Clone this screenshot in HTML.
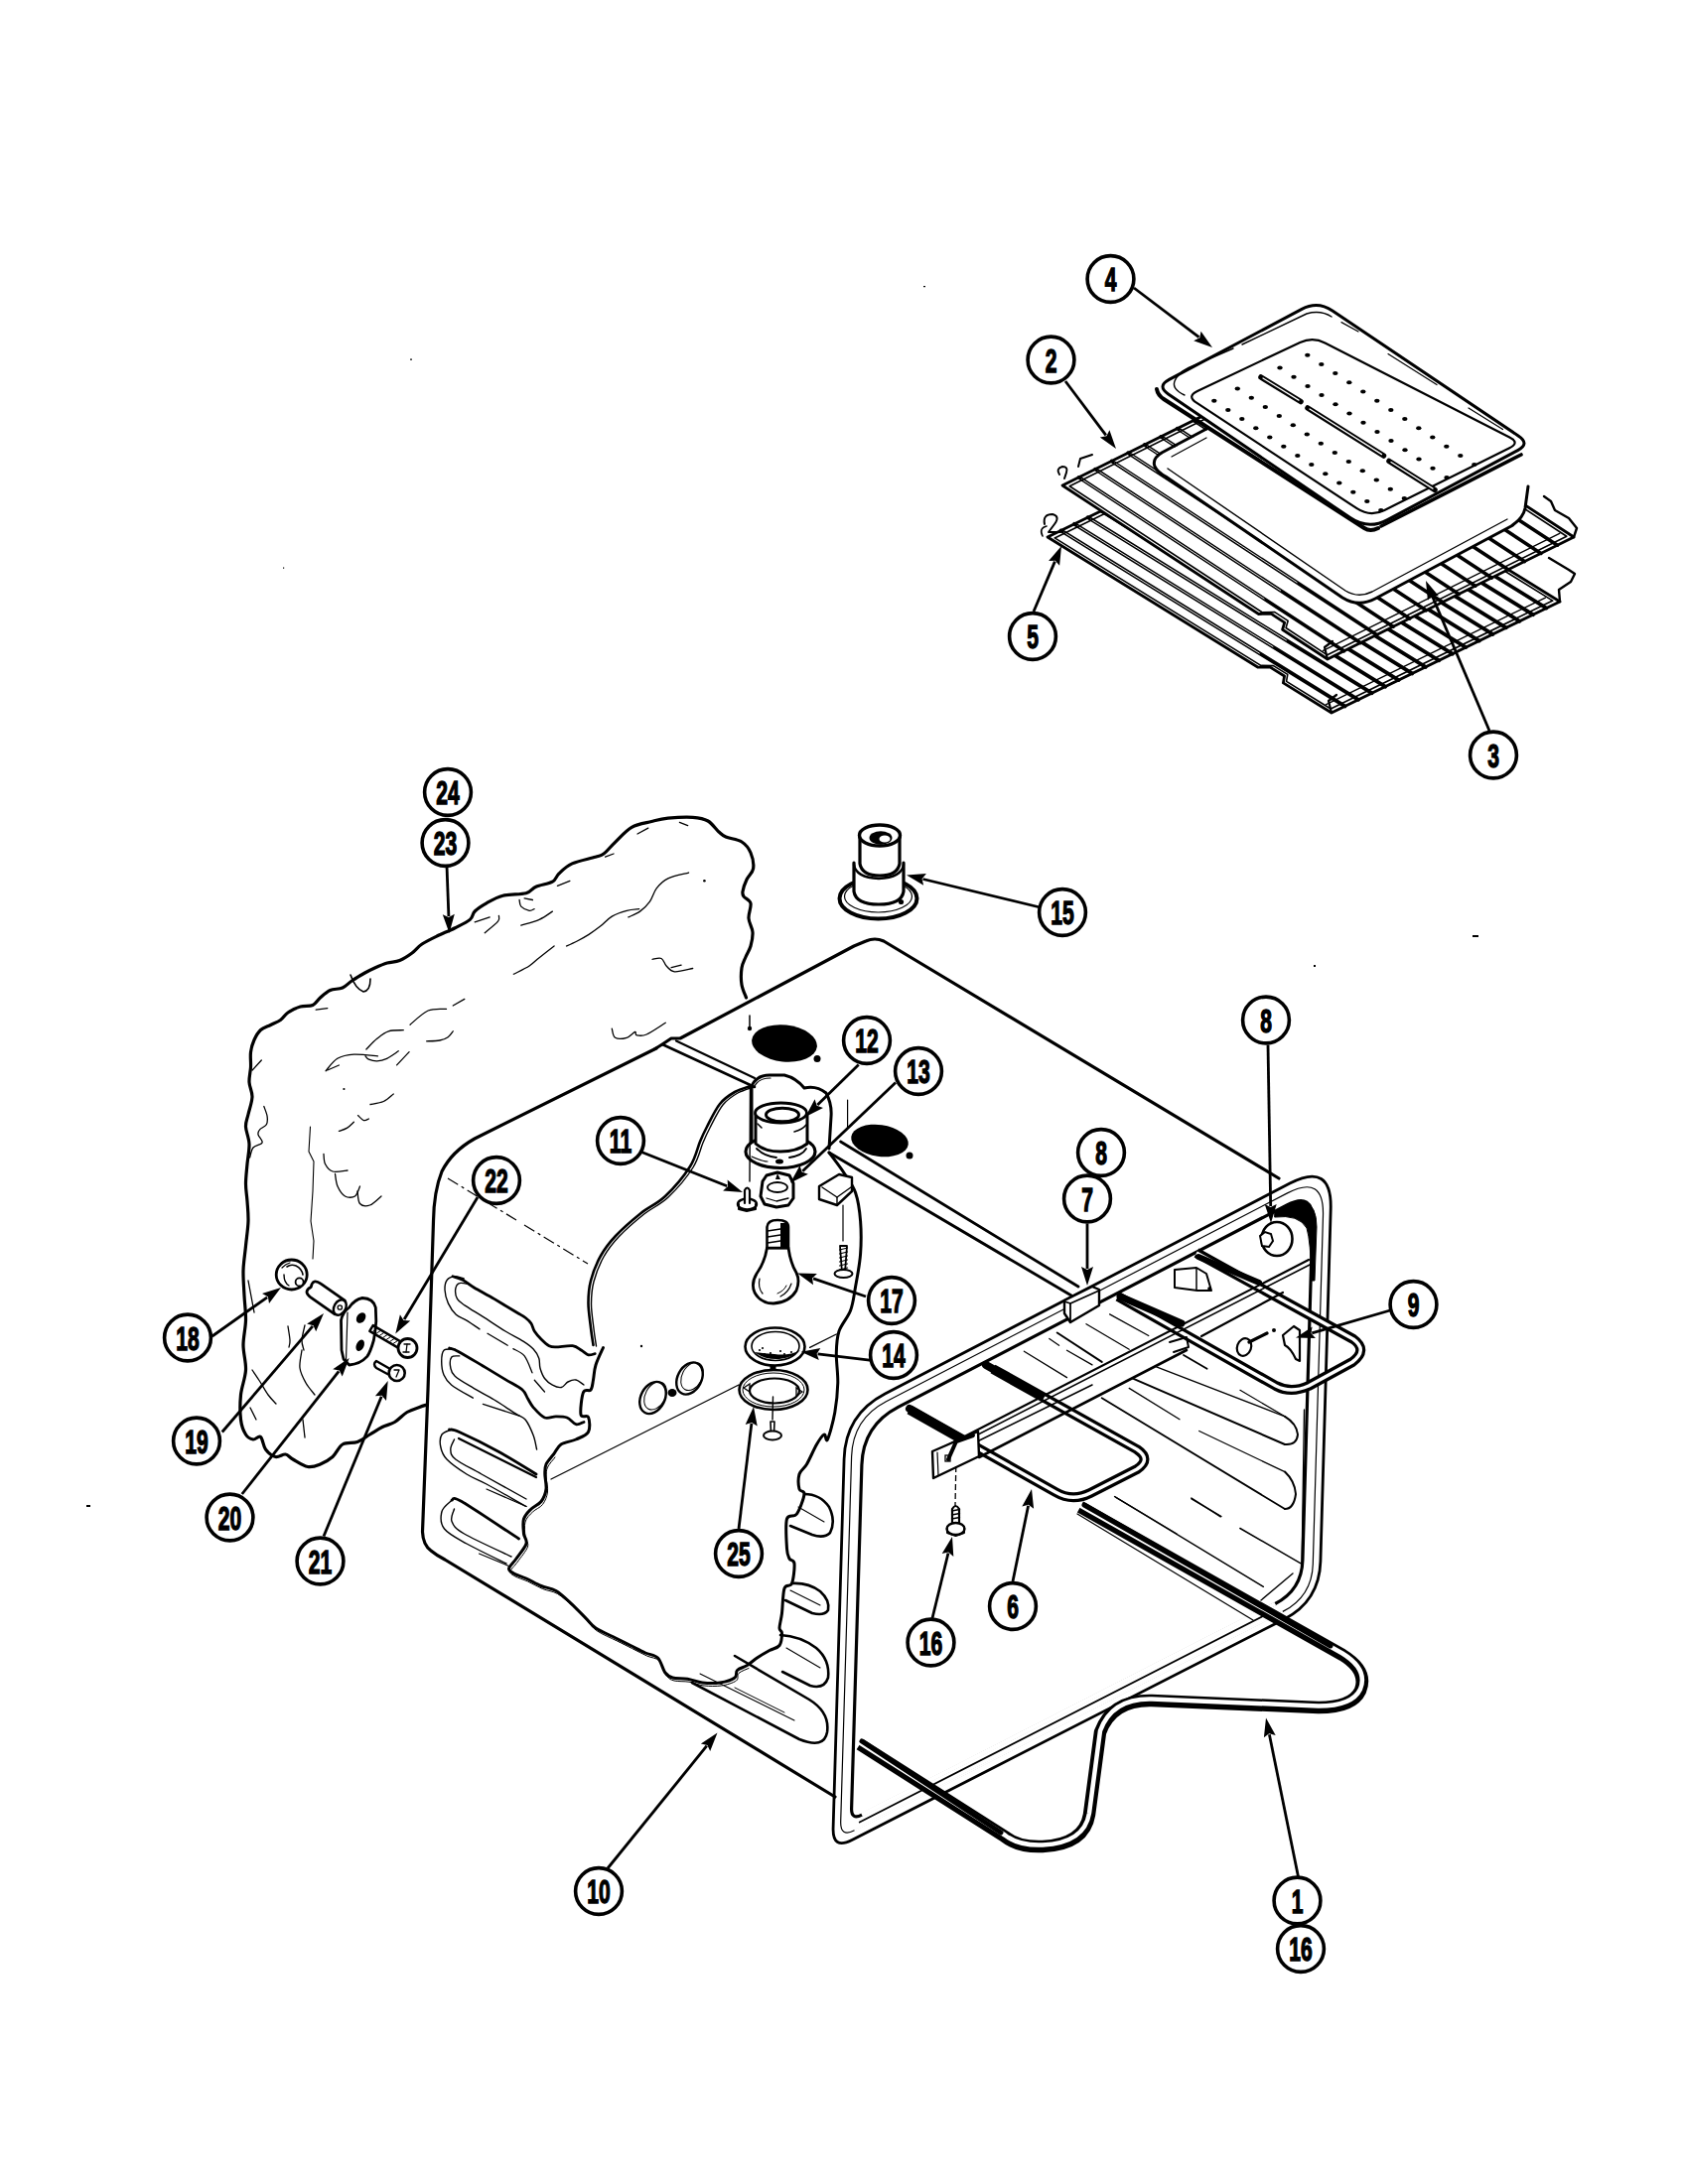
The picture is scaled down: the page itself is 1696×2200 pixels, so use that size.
<!DOCTYPE html>
<html><head><meta charset="utf-8"><style>
html,body{margin:0;padding:0;background:#fff;}
svg{display:block;}
text{font-family:"Liberation Sans",sans-serif;fill:#000;}
</style></head><body>
<svg width="1696" height="2200" viewBox="0 0 1696 2200">
<path d="M751.5,1005.0 C750.8,1002.8 747.8,997.0 747.0,992.0 C746.2,987.0 746.3,979.7 747.0,975.0 C747.7,970.3 749.5,967.7 751.0,964.0 C752.5,960.3 754.8,957.2 756.0,953.0 C757.2,948.8 758.3,943.7 758.0,939.0 C757.7,934.3 754.3,929.8 754.0,925.0 C753.7,920.2 756.8,913.7 756.0,910.0 C755.2,906.3 750.3,905.0 749.0,903.0 C747.7,901.0 747.5,900.8 748.0,898.0 C748.5,895.2 750.2,889.8 752.0,886.0 C753.8,882.2 757.9,879.5 758.6,875.0 C759.3,870.5 757.9,863.5 756.0,859.0 C754.1,854.5 751.2,850.7 747.0,848.0 C742.8,845.3 734.8,844.7 731.0,843.0 C727.2,841.3 727.0,840.7 724.0,838.0 C721.0,835.3 717.4,829.5 713.0,827.0 C708.6,824.5 704.4,823.8 697.7,823.3 C691.0,822.8 679.7,823.5 672.8,824.2 C665.9,824.9 662.3,826.0 656.2,827.5 C650.1,829.0 642.3,829.8 636.2,833.3 C630.1,836.8 624.3,843.8 619.6,848.3 C614.9,852.8 611.3,857.5 608.0,860.0 C604.7,862.5 604.9,861.6 599.6,863.2 C594.3,864.9 582.4,867.1 576.3,869.9 C570.2,872.7 566.3,876.8 563.0,879.9 C559.7,883.0 560.3,886.0 556.4,888.2 C552.5,890.4 544.2,891.3 539.8,893.2 C535.4,895.1 535.3,898.3 529.8,899.8 C524.2,901.3 513.1,900.6 506.5,902.3 C499.9,904.0 494.6,907.2 489.9,909.8 C485.2,912.4 481.0,915.2 478.2,918.0 C475.4,920.8 476.6,923.6 473.3,926.4 C470.0,929.2 463.9,931.9 458.3,934.7 C452.8,937.5 445.6,940.3 440.0,943.0 C434.4,945.7 429.2,948.2 425.0,951.0 C420.8,953.8 418.8,957.2 415.0,960.0 C411.2,962.8 406.7,965.8 402.5,967.5 C398.3,969.2 394.2,968.8 390.0,970.0 C385.8,971.2 381.2,973.3 377.5,975.0 C373.8,976.7 371.2,977.9 367.5,980.0 C363.8,982.1 358.8,985.0 355.0,987.5 C351.2,990.0 348.8,993.3 345.0,995.0 C341.2,996.7 336.2,995.8 332.5,997.5 C328.8,999.2 325.4,1002.5 322.5,1005.0 C319.6,1007.5 318.3,1011.0 315.0,1012.5 C311.7,1014.0 306.7,1012.8 302.5,1014.0 C298.3,1015.2 293.3,1017.8 290.0,1020.0 C286.7,1022.2 285.4,1025.4 282.5,1027.5 C279.6,1029.6 275.8,1030.8 272.5,1032.5 C269.2,1034.2 265.2,1035.0 262.5,1037.5 C259.8,1040.0 257.7,1043.8 256.0,1047.5 C254.3,1051.2 253.1,1055.4 252.5,1060.0 C251.9,1064.6 252.8,1070.0 252.5,1075.0 C252.2,1080.0 250.8,1085.0 251.0,1090.0 C251.2,1095.0 254.2,1099.6 254.0,1105.0 C253.8,1110.4 251.1,1117.5 250.0,1122.5 C248.9,1127.5 247.3,1130.0 247.5,1135.0 C247.7,1140.0 250.8,1146.2 251.0,1152.5 C251.2,1158.8 249.6,1165.8 249.0,1172.5 C248.4,1179.2 247.5,1186.2 247.5,1192.5 C247.5,1198.8 248.6,1203.8 249.0,1210.0 C249.4,1216.2 250.2,1222.5 250.0,1230.0 C249.8,1237.5 248.3,1246.7 247.5,1255.0 C246.7,1263.3 245.2,1271.7 245.0,1280.0 C244.8,1288.3 245.6,1296.7 246.0,1305.0 C246.4,1313.3 247.7,1321.7 247.5,1330.0 C247.3,1338.3 245.0,1346.7 245.0,1355.0 C245.0,1363.3 247.9,1371.7 247.5,1380.0 C247.1,1388.3 243.3,1396.7 242.5,1405.0 C241.7,1413.3 241.7,1423.3 242.5,1430.0 C243.3,1436.7 245.4,1441.7 247.5,1445.0 C249.6,1448.3 252.5,1449.6 255.0,1450.0 C257.5,1450.4 260.4,1445.8 262.5,1447.5 C264.6,1449.2 265.0,1456.7 267.5,1460.0 C270.0,1463.3 274.2,1466.7 277.5,1467.5 C280.8,1468.3 284.6,1464.6 287.5,1465.0 C290.4,1465.4 291.2,1467.9 295.0,1470.0 C298.8,1472.1 305.4,1476.7 310.0,1477.5 C314.6,1478.3 318.3,1476.7 322.5,1475.0 C326.7,1473.3 331.2,1470.8 335.0,1467.5 C338.8,1464.2 340.8,1457.5 345.0,1455.0 C349.2,1452.5 355.4,1454.2 360.0,1452.5 C364.6,1450.8 368.3,1447.5 372.5,1445.0 C376.7,1442.5 380.8,1439.6 385.0,1437.5 C389.2,1435.4 393.3,1435.0 397.5,1432.5 C401.7,1430.0 405.8,1425.0 410.0,1422.5 C414.2,1420.0 419.2,1418.8 422.5,1417.5 C425.8,1416.2 428.8,1415.4 430.0,1415.0" fill="none" stroke="#000" stroke-width="3.2" stroke-linejoin="round" stroke-linecap="round"/>
<path d="M353,982 Q358,996 366,999 Q373,998 373,986" fill="none" stroke="#000" stroke-width="1.6" stroke-linejoin="round" stroke-linecap="round"/>
<path d="M642,840 L652.8,834.1" fill="none" stroke="#000" stroke-width="1.3" stroke-linejoin="round" stroke-linecap="round"/>
<path d="M692.7,831.6 L684.4,828.3" fill="none" stroke="#000" stroke-width="1.3" stroke-linejoin="round" stroke-linecap="round"/>
<path d="M618,860 L609.6,863.2" fill="none" stroke="#000" stroke-width="1.3" stroke-linejoin="round" stroke-linecap="round"/>
<path d="M573.9,887.3 L561.4,892.3" fill="none" stroke="#000" stroke-width="1.3" stroke-linejoin="round" stroke-linecap="round"/>
<path d="M536.4,906.5 L528.1,904.8" fill="none" stroke="#000" stroke-width="1.3" stroke-linejoin="round" stroke-linecap="round"/>
<path d="M523.1,906.5 C523.4,907.6 523.1,911.3 524.8,913.1 C526.5,914.9 530.9,916.9 533.1,917.3 C535.3,917.7 537.3,915.9 538.1,915.6" fill="none" stroke="#000" stroke-width="1.3" stroke-linejoin="round" stroke-linecap="round"/>
<path d="M493.2,923.9 L478.2,928.9" fill="none" stroke="#000" stroke-width="1.3" stroke-linejoin="round" stroke-linecap="round"/>
<path d="M502.4,922.3 C502.2,923.3 503.9,925.2 501.5,928.1 C499.1,931.0 490.4,937.8 488.2,939.7" fill="none" stroke="#000" stroke-width="1.3" stroke-linejoin="round" stroke-linecap="round"/>
<path d="M556.4,918.1 C554.2,919.5 548.4,924.0 543.1,926.4 C537.8,928.8 527.8,931.2 524.8,932.2" fill="none" stroke="#000" stroke-width="1.3" stroke-linejoin="round" stroke-linecap="round"/>
<path d="M693.6,879.0 C690.1,880.0 678.2,882.2 672.8,884.8 C667.4,887.4 664.2,890.9 661.2,894.8 C658.2,898.7 657.3,904.2 654.5,908.1 C651.7,912.0 648.1,915.5 644.5,918.1 C640.9,920.7 634.8,922.9 632.9,923.9" fill="none" stroke="#000" stroke-width="1.3" stroke-linejoin="round" stroke-linecap="round"/>
<path d="M643.7,915.6 C641.6,915.9 635.8,916.0 631.2,917.3 C626.6,918.5 620.7,920.5 616.3,923.1 C611.9,925.7 608.5,930.1 604.6,933.1 C600.7,936.1 596.9,938.9 593.0,941.4 C589.1,943.9 585.0,946.1 581.3,948.0 C577.5,949.9 572.3,952.2 570.5,953.0" fill="none" stroke="#000" stroke-width="1.3" stroke-linejoin="round" stroke-linecap="round"/>
<path d="M558.1,953.0 C555.6,955.0 547.3,961.4 543.1,964.7 C538.9,968.0 537.4,970.2 533.1,973.0 C528.8,975.8 519.9,979.9 517.3,981.3" fill="none" stroke="#000" stroke-width="1.3" stroke-linejoin="round" stroke-linecap="round"/>
<path d="M657.0,966.3 C658.5,966.2 663.8,964.4 666.1,965.5 C668.5,966.6 668.9,970.8 671.1,973.0 C673.3,975.2 675.0,978.4 679.4,978.8 C683.8,979.2 694.7,976.0 697.7,975.5" fill="none" stroke="#000" stroke-width="1.3" stroke-linejoin="round" stroke-linecap="round"/>
<path d="M686.1,972.1 L676.1,974.6" fill="none" stroke="#000" stroke-width="1.3" stroke-linejoin="round" stroke-linecap="round"/>
<path d="M616.3,1036.2 C616.8,1037.7 617.1,1043.8 619.6,1045.3 C622.1,1046.8 627.9,1046.3 631.2,1045.3 C634.5,1044.3 637.8,1039.9 639.5,1039.5 C641.2,1039.1 639.2,1042.4 641.2,1042.8 C643.2,1043.2 646.4,1044.1 651.2,1042.0 C656.1,1039.9 667.1,1032.2 670.3,1030.3" fill="none" stroke="#000" stroke-width="1.3" stroke-linejoin="round" stroke-linecap="round"/>
<path d="M467.8,1006.4 L456.2,1013" fill="none" stroke="#000" stroke-width="1.3" stroke-linejoin="round" stroke-linecap="round"/>
<path d="M449.5,1016.4 C446.4,1016.7 437.3,1015.4 431.2,1018.0 C425.1,1020.6 416.0,1029.8 413.0,1032.2" fill="none" stroke="#000" stroke-width="1.3" stroke-linejoin="round" stroke-linecap="round"/>
<path d="M406.3,1037.7 C403.8,1037.9 395.7,1037.4 391.3,1038.8 C386.9,1040.2 383.4,1043.3 379.7,1046.3 C376.0,1049.3 370.7,1055.2 368.9,1057.0" fill="none" stroke="#000" stroke-width="1.3" stroke-linejoin="round" stroke-linecap="round"/>
<path d="M456.2,1038.8 C455.4,1039.8 453.4,1043.2 451.2,1044.7 C449.0,1046.2 446.5,1047.3 442.9,1048.0 C439.3,1048.7 431.8,1048.7 429.6,1048.8" fill="none" stroke="#000" stroke-width="1.3" stroke-linejoin="round" stroke-linecap="round"/>
<path d="M401.3,1058.8 C399.4,1060.0 393.2,1064.6 389.6,1066.3 C386.0,1068.0 382.7,1068.7 379.7,1068.8 C376.7,1068.9 373.3,1067.9 371.4,1067.1 C369.4,1066.3 368.6,1064.3 368.0,1063.8" fill="none" stroke="#000" stroke-width="1.3" stroke-linejoin="round" stroke-linecap="round"/>
<path d="M380.5,1063.8 C376.5,1063.5 363.2,1061.7 356.4,1062.1 C349.6,1062.5 344.5,1063.5 339.8,1066.3 C335.1,1069.1 330.1,1076.6 328.1,1078.7" fill="none" stroke="#000" stroke-width="1.3" stroke-linejoin="round" stroke-linecap="round"/>
<path d="M341.4,1073 L329.8,1078" fill="none" stroke="#000" stroke-width="1.3" stroke-linejoin="round" stroke-linecap="round"/>
<path d="M412.1,1059.6 L399.6,1072.9" fill="none" stroke="#000" stroke-width="1.3" stroke-linejoin="round" stroke-linecap="round"/>
<path d="M396.3,1102.0 C394.6,1103.2 390.2,1107.8 386.3,1109.5 C382.4,1111.2 375.2,1112.0 373.0,1112.5" fill="none" stroke="#000" stroke-width="1.3" stroke-linejoin="round" stroke-linecap="round"/>
<path d="M356.4,1130.3 C355.3,1131.3 352.2,1134.6 349.7,1136.1 C347.2,1137.6 342.8,1138.9 341.4,1139.4" fill="none" stroke="#000" stroke-width="1.3" stroke-linejoin="round" stroke-linecap="round"/>
<path d="M360.5,1123.6 C361.5,1124.4 364.6,1128.0 366.4,1128.6 C368.2,1129.2 370.6,1127.3 371.4,1127.0" fill="none" stroke="#000" stroke-width="1.3" stroke-linejoin="round" stroke-linecap="round"/>
<path d="M265.8,1114.5 C266.4,1116.2 268.7,1121.5 269.1,1124.5 C269.5,1127.5 269.6,1130.6 268.3,1132.8 C267.1,1135.0 263.0,1136.1 261.6,1137.8 C260.2,1139.5 259.6,1140.6 260.0,1142.8 C260.4,1145.0 264.9,1148.8 264.1,1151.0 C263.3,1153.2 257.1,1153.5 255.0,1156.0 C252.9,1158.5 252.2,1164.3 251.6,1166.0" fill="none" stroke="#000" stroke-width="1.3" stroke-linejoin="round" stroke-linecap="round"/>
<path d="M263.3,1068 L254.1,1078" fill="none" stroke="#000" stroke-width="1.3" stroke-linejoin="round" stroke-linecap="round"/>
<path d="M329.8,1015.6 L318.2,1017.2" fill="none" stroke="#000" stroke-width="1.3" stroke-linejoin="round" stroke-linecap="round"/>
<path d="M326.0,1162.5 C326.2,1164.2 326.0,1169.6 327.5,1172.5 C329.0,1175.4 331.2,1178.9 335.0,1180.0 C338.8,1181.1 347.5,1179.2 350.0,1179.0" fill="none" stroke="#000" stroke-width="1.3" stroke-linejoin="round" stroke-linecap="round"/>
<path d="M337.5,1182.5 C337.9,1184.6 338.3,1191.2 340.0,1195.0 C341.7,1198.8 344.6,1203.3 347.5,1205.0 C350.4,1206.7 355.0,1206.7 357.5,1205.0 C360.0,1203.3 361.7,1196.7 362.5,1195.0" fill="none" stroke="#000" stroke-width="1.3" stroke-linejoin="round" stroke-linecap="round"/>
<path d="M360.0,1200.0 C360.4,1202.1 360.4,1210.2 362.5,1212.5 C364.6,1214.8 368.9,1215.2 372.5,1214.0 C376.1,1212.8 382.1,1206.5 384.0,1205.0" fill="none" stroke="#000" stroke-width="1.3" stroke-linejoin="round" stroke-linecap="round"/>
<path d="M290.0,1336.0 C290.3,1338.3 291.8,1346.5 292.0,1350.0 C292.2,1353.5 291.2,1355.8 291.0,1357.0" fill="none" stroke="#000" stroke-width="1.3" stroke-linejoin="round" stroke-linecap="round"/>
<path d="M307.0,1335.0 C306.5,1337.5 304.2,1345.8 304.0,1350.0 C303.8,1354.2 305.7,1358.3 306.0,1360.0" fill="none" stroke="#000" stroke-width="1.3" stroke-linejoin="round" stroke-linecap="round"/>
<path d="M304.0,1360.0 C303.7,1363.0 301.3,1372.5 302.0,1378.0 C302.7,1383.5 305.5,1388.5 308.0,1393.0 C310.5,1397.5 315.5,1403.0 317.0,1405.0" fill="none" stroke="#000" stroke-width="1.3" stroke-linejoin="round" stroke-linecap="round"/>
<path d="M254.0,1380.0 C255.3,1382.0 259.3,1387.8 262.0,1392.0 C264.7,1396.2 267.3,1401.3 270.0,1405.0 C272.7,1408.7 276.7,1412.5 278.0,1414.0" fill="none" stroke="#000" stroke-width="1.3" stroke-linejoin="round" stroke-linecap="round"/>
<path d="M305,1430 L307,1448" fill="none" stroke="#000" stroke-width="1.3" stroke-linejoin="round" stroke-linecap="round"/>
<path d="M250,1290 L256,1322" fill="none" stroke="#000" stroke-width="1.3" stroke-linejoin="round" stroke-linecap="round"/>
<path d="M252,1418 L258,1430" fill="none" stroke="#000" stroke-width="1.3" stroke-linejoin="round" stroke-linecap="round"/>
<circle cx="346.4" cy="1097" r="1.1" fill="#000"/>
<circle cx="709.4" cy="887.3" r="1.3" fill="#000"/>
<path d="M312.5,1135 L311,1160 L316,1170 L315,1200 L313,1230 L316,1250 L315,1268" fill="none" stroke="#000" stroke-width="1.1" stroke-linejoin="round" stroke-linecap="round"/>
<path d="M659.8,1056.5 L667,1052 L676,1046 L685,1046 L860,953 L872,948 Q881,944 890,948 L1288,1187" fill="none" stroke="#000" stroke-width="3.2" stroke-linejoin="round" stroke-linecap="round"/>
<path d="M667,1052 L760,1095" fill="none" stroke="#000" stroke-width="2.6" stroke-linejoin="round" stroke-linecap="round"/>
<path d="M681,1048.5 L760,1086" fill="none" stroke="#000" stroke-width="2.2" stroke-linejoin="round" stroke-linecap="round"/>
<path d="M835,1161 L1079,1305" fill="none" stroke="#000" stroke-width="2.8" stroke-linejoin="round" stroke-linecap="round"/>
<path d="M846.6,1150 L1086,1296" fill="none" stroke="#000" stroke-width="2.8" stroke-linejoin="round" stroke-linecap="round"/>
<ellipse cx="790" cy="1051" rx="33" ry="18.5" transform="rotate(6 790 1051)" fill="#000"/>
<circle cx="823" cy="1066.5" r="3.5" fill="#000"/>
<ellipse cx="886" cy="1149" rx="29" ry="16" transform="rotate(8 886 1149)" fill="#000"/>
<circle cx="916" cy="1164" r="3.5" fill="#000"/>
<path d="M755,1023 L755,1036" fill="none" stroke="#000" stroke-width="1.5" stroke-linejoin="round" stroke-linecap="round"/>
<circle cx="755" cy="1036" r="2.2" fill="#000"/>
<path d="M661,1056 L478,1147 Q455,1160 445,1180 Q437,1200 436.5,1230 L431,1400 L425.5,1543 Q426,1556 434,1562 Q440,1567 448,1571 L841,1810" fill="none" stroke="#000" stroke-width="3.2" stroke-linejoin="round" stroke-linecap="round"/>
<path d="M451,1187 L520,1229" stroke="#000" stroke-width="1.2" stroke-dasharray="12,4,3,4" fill="none"/>
<path d="M528,1234 L592,1273" stroke="#000" stroke-width="1.2" stroke-dasharray="12,4,3,4" fill="none"/>
<path d="M607.5,1357.5 C606.2,1360.4 601.7,1369.6 600.0,1375.0 C598.3,1380.4 598.3,1385.8 597.5,1390.0 C596.7,1394.2 596.7,1397.9 595.0,1400.0 C593.3,1402.1 589.2,1398.3 587.5,1402.5 C585.8,1406.7 584.2,1420.8 585.0,1425.0 C585.8,1429.2 591.2,1424.6 592.5,1427.5 C593.8,1430.4 594.6,1438.8 592.5,1442.5 C590.4,1446.2 584.6,1447.9 580.0,1450.0 C575.4,1452.1 568.8,1452.5 565.0,1455.0 C561.2,1457.5 560.0,1461.7 557.5,1465.0 C555.0,1468.3 551.5,1471.7 550.0,1475.0 C548.5,1478.3 548.8,1480.8 548.8,1485.0 C548.8,1489.2 550.6,1495.4 550.0,1500.0 C549.4,1504.6 547.5,1509.2 545.0,1512.5 C542.5,1515.8 537.9,1517.1 535.0,1520.0 C532.1,1522.9 528.8,1525.8 527.5,1530.0 C526.2,1534.2 527.1,1540.8 527.5,1545.0 C527.9,1549.2 531.2,1550.8 530.0,1555.0 C528.8,1559.2 522.9,1565.8 520.0,1570.0 C517.1,1574.2 512.9,1577.5 512.5,1580.0 C512.1,1582.5 514.6,1583.3 517.5,1585.0 C520.4,1586.7 525.4,1587.9 530.0,1590.0 C534.6,1592.1 540.0,1595.4 545.0,1597.5 C550.0,1599.6 555.0,1599.6 560.0,1602.5 C565.0,1605.4 570.0,1610.4 575.0,1615.0 C580.0,1619.6 585.8,1625.8 590.0,1630.0 C594.2,1634.2 595.0,1636.7 600.0,1640.0 C605.0,1643.3 614.2,1647.1 620.0,1650.0 C625.8,1652.9 630.0,1655.0 635.0,1657.5 C640.0,1660.0 645.4,1662.9 650.0,1665.0 C654.6,1667.1 659.2,1666.7 662.5,1670.0 C665.8,1673.3 667.5,1681.7 670.0,1685.0 C672.5,1688.3 673.8,1689.0 677.5,1690.0 C681.2,1691.0 687.5,1690.4 692.5,1691.2 C697.5,1692.1 702.1,1694.4 707.5,1695.0 C712.9,1695.6 719.6,1695.8 725.0,1695.0 C730.4,1694.2 737.1,1692.1 740.0,1690.0 C742.9,1687.9 740.4,1684.6 742.5,1682.5 C744.6,1680.4 749.2,1679.6 752.5,1677.5 C755.8,1675.4 758.8,1672.5 762.5,1670.0 C766.2,1667.5 771.2,1664.6 775.0,1662.5 C778.8,1660.4 782.9,1660.4 785.0,1657.5 C787.1,1654.6 787.5,1647.9 787.5,1645.0 C787.5,1642.1 785.0,1643.3 785.0,1640.0 C785.0,1636.7 786.7,1631.7 787.5,1625.0 C788.3,1618.3 788.3,1605.0 790.0,1600.0 C791.7,1595.0 795.8,1599.2 797.5,1595.0 C799.2,1590.8 800.4,1579.2 800.0,1575.0 C799.6,1570.8 796.2,1572.5 795.0,1570.0 C793.8,1567.5 792.9,1566.7 792.5,1560.0 C792.1,1553.3 790.8,1535.8 792.5,1530.0 C794.2,1524.2 799.6,1529.2 802.5,1525.0 C805.4,1520.8 809.6,1509.2 810.0,1505.0 C810.4,1500.8 805.8,1503.3 805.0,1500.0 C804.2,1496.7 803.8,1489.2 805.0,1485.0 C806.2,1480.8 809.6,1480.0 812.5,1475.0 C815.4,1470.0 819.6,1460.0 822.5,1455.0 C825.4,1450.0 828.2,1445.8 830.0,1445.0 C831.8,1444.2 831.6,1453.7 833.4,1450.0 C835.2,1446.3 839.1,1432.2 840.8,1422.7 C842.5,1413.2 843.5,1403.0 843.8,1393.0 C844.0,1383.0 842.1,1371.7 842.3,1363.0 C842.5,1354.3 842.6,1348.2 845.0,1341.0 C847.4,1333.8 853.8,1327.5 856.6,1320.0 C859.4,1312.5 859.9,1305.5 861.6,1296.0 C863.3,1286.5 865.8,1274.0 866.6,1263.0 C867.4,1252.0 867.4,1240.2 866.6,1230.0 C865.8,1219.8 864.4,1209.6 861.6,1201.5 C858.8,1193.4 854.4,1188.2 850.0,1181.5 C845.6,1174.8 837.5,1164.4 835.0,1161.0" fill="none" stroke="#000" stroke-width="3.0" stroke-linejoin="round" stroke-linecap="round"/>
<path d="M559.0,1468.0 C557.8,1469.7 553.0,1474.7 551.5,1478.0 C550.0,1481.3 550.2,1483.8 550.2,1488.0 C550.2,1492.2 552.1,1498.4 551.5,1503.0 C550.9,1507.6 549.0,1512.2 546.5,1515.5 C544.0,1518.8 539.4,1520.1 536.5,1523.0 C533.6,1525.9 530.2,1528.8 529.0,1533.0 C527.8,1537.2 528.6,1543.8 529.0,1548.0 C529.4,1552.2 532.8,1553.8 531.5,1558.0 C530.2,1562.2 524.4,1568.8 521.5,1573.0 C518.6,1577.2 514.4,1580.5 514.0,1583.0 C513.6,1585.5 516.1,1586.3 519.0,1588.0 C521.9,1589.7 526.9,1590.9 531.5,1593.0 C536.1,1595.1 541.5,1598.4 546.5,1600.5 C551.5,1602.6 556.5,1602.6 561.5,1605.5 C566.5,1608.4 571.5,1613.4 576.5,1618.0 C581.5,1622.6 587.3,1628.8 591.5,1633.0 C595.7,1637.2 596.5,1639.7 601.5,1643.0 C606.5,1646.3 615.7,1650.1 621.5,1653.0 C627.3,1655.9 631.5,1658.0 636.5,1660.5 C641.5,1663.0 646.9,1665.9 651.5,1668.0 C656.1,1670.1 660.7,1669.7 664.0,1673.0 C667.3,1676.3 669.0,1684.7 671.5,1688.0 C674.0,1691.3 675.2,1692.0 679.0,1693.0 C682.8,1694.0 689.0,1693.4 694.0,1694.2 C699.0,1695.1 703.6,1697.4 709.0,1698.0 C714.4,1698.6 721.1,1698.8 726.5,1698.0 C731.9,1697.2 738.6,1695.1 741.5,1693.0 C744.4,1690.9 741.9,1687.6 744.0,1685.5 C746.1,1683.4 752.3,1681.3 754.0,1680.5" fill="none" stroke="#000" stroke-width="1.0" stroke-linejoin="round" stroke-linecap="round"/>
<path d="M756.0,1094.0 C753.3,1095.0 745.2,1097.0 740.0,1100.0 C734.8,1103.0 729.7,1106.2 725.0,1112.0 C720.3,1117.8 715.3,1128.7 712.0,1135.0 C708.7,1141.3 707.8,1143.3 705.0,1150.0 C702.2,1156.7 700.8,1165.8 695.0,1175.0 C689.2,1184.2 678.3,1197.1 670.0,1205.0 C661.7,1212.9 653.3,1215.8 645.0,1222.5 C636.7,1229.2 626.7,1237.9 620.0,1245.0 C613.3,1252.1 609.2,1257.5 605.0,1265.0 C600.8,1272.5 597.1,1282.1 595.0,1290.0 C592.9,1297.9 592.5,1304.6 592.5,1312.5 C592.5,1320.4 594.2,1330.4 595.0,1337.5 C595.8,1344.6 597.1,1352.1 597.5,1355.0" fill="none" stroke="#000" stroke-width="2.6" stroke-linejoin="round" stroke-linecap="round"/>
<path d="M759.0,1095.0 C756.3,1096.0 748.2,1098.0 743.0,1101.0 C737.8,1104.0 732.7,1107.2 728.0,1113.0 C723.3,1118.8 718.3,1129.7 715.0,1136.0 C711.7,1142.3 710.8,1144.3 708.0,1151.0 C705.2,1157.7 703.8,1166.8 698.0,1176.0 C692.2,1185.2 681.3,1198.1 673.0,1206.0 C664.7,1213.9 656.3,1216.8 648.0,1223.5 C639.7,1230.2 629.7,1238.9 623.0,1246.0 C616.3,1253.1 612.2,1258.5 608.0,1266.0 C603.8,1273.5 600.1,1283.1 598.0,1291.0 C595.9,1298.9 595.5,1305.6 595.5,1313.5 C595.5,1321.4 597.2,1331.4 598.0,1338.5 C598.8,1345.6 600.1,1353.1 600.5,1356.0" fill="none" stroke="#000" stroke-width="1.4" stroke-linejoin="round" stroke-linecap="round"/>
<path d="M467.2,1288.0 C465.7,1287.6 461.0,1285.6 458.2,1285.8 C455.4,1286.0 452.0,1287.0 450.3,1289.2 C448.6,1291.5 447.8,1295.3 448.0,1299.3 C448.2,1303.2 449.5,1308.8 451.4,1312.9 C453.3,1317.1 456.3,1321.4 459.3,1324.2 C462.3,1327.0 465.6,1327.4 469.5,1329.8 C473.4,1332.2 480.8,1337.3 483.0,1338.8" fill="none" stroke="#000" stroke-width="1.4" stroke-linejoin="round" stroke-linecap="round"/>
<path d="M456.0,1285.8 C457.7,1286.4 462.4,1287.3 466.0,1289.2 C469.6,1291.1 472.1,1293.8 477.4,1297.0 C482.7,1300.2 490.6,1304.2 497.7,1308.4 C504.8,1312.6 515.0,1318.8 520.3,1322.0 C525.6,1325.2 526.8,1325.6 529.3,1327.5 C531.8,1329.4 533.5,1331.0 535.0,1333.2 C536.5,1335.5 536.6,1338.4 538.3,1341.0 C540.0,1343.6 542.5,1346.5 545.0,1349.0 C547.5,1351.5 550.5,1354.4 553.0,1355.7 C555.5,1357.0 555.8,1356.9 559.8,1356.9 C563.8,1356.9 572.4,1355.1 576.7,1355.7 C581.0,1356.3 583.1,1358.8 585.7,1360.3 C588.3,1361.8 590.2,1364.2 592.5,1364.8 C594.8,1365.3 598.1,1363.8 599.2,1363.6" fill="none" stroke="#000" stroke-width="2.8" stroke-linejoin="round" stroke-linecap="round"/>
<path d="M472.9,1293.7 C471.2,1293.5 465.0,1291.8 462.7,1292.6 C460.4,1293.3 459.2,1295.6 458.8,1298.2 C458.4,1300.8 458.9,1305.6 460.5,1308.4 C462.1,1311.2 464.1,1312.1 468.4,1315.1 C472.7,1318.1 479.6,1322.1 486.4,1326.4 C493.2,1330.7 502.2,1336.9 509.0,1341.0 C515.8,1345.1 522.3,1348.2 527.0,1351.2 C531.7,1354.2 534.6,1356.3 537.2,1359.1 C539.8,1361.9 541.7,1365.0 542.8,1368.2 C543.9,1371.4 543.0,1374.9 544.0,1378.3 C545.0,1381.7 546.4,1385.7 548.5,1388.5 C550.6,1391.3 553.6,1393.7 556.4,1395.2 C559.2,1396.7 562.8,1398.0 565.4,1397.5 C568.0,1397.0 569.6,1393.2 572.0,1392.0 C574.4,1390.8 577.3,1389.5 580.0,1390.0 C582.7,1390.5 586.7,1394.2 588.0,1395.0" fill="none" stroke="#000" stroke-width="1.4" stroke-linejoin="round" stroke-linecap="round"/>
<path d="M491,1343.3 L511.2,1355.2" fill="none" stroke="#000" stroke-width="1.3" stroke-linejoin="round" stroke-linecap="round"/>
<path d="M516.9,1358.6 C518.8,1359.8 525.0,1361.9 528.2,1365.9 C531.4,1369.9 534.7,1380.0 536.0,1382.8" fill="none" stroke="#000" stroke-width="1.3" stroke-linejoin="round" stroke-linecap="round"/>
<path d="M458.2,1359.1 C456.3,1359.3 449.2,1358.2 447.0,1360.3 C444.8,1362.4 444.7,1367.4 444.7,1371.5 C444.7,1375.6 445.3,1381.0 447.0,1385.0 C448.7,1389.0 449.9,1391.3 454.8,1395.2 C459.7,1399.1 472.7,1406.0 476.3,1408.2" fill="none" stroke="#000" stroke-width="1.4" stroke-linejoin="round" stroke-linecap="round"/>
<path d="M452.6,1358.0 C454.1,1358.6 456.0,1358.4 461.6,1361.4 C467.2,1364.4 478.5,1371.3 486.4,1376.0 C494.3,1380.7 502.4,1385.6 509.0,1389.6 C515.6,1393.6 522.1,1396.6 525.9,1399.8 C529.6,1403.0 529.6,1405.8 531.5,1408.8 C533.4,1411.8 534.4,1414.6 537.2,1417.8 C540.0,1421.0 544.7,1426.5 548.5,1428.0 C552.3,1429.5 556.0,1426.8 559.8,1426.8 C563.5,1426.8 567.6,1426.7 571.0,1428.0 C574.4,1429.3 577.2,1434.0 580.0,1434.7 C582.8,1435.5 586.7,1432.9 588.0,1432.5" fill="none" stroke="#000" stroke-width="2.8" stroke-linejoin="round" stroke-linecap="round"/>
<path d="M462.7,1365.9 C461.4,1366.1 456.3,1365.1 454.8,1367.0 C453.3,1368.9 453.1,1374.0 453.7,1377.2 C454.3,1380.4 454.2,1382.6 458.2,1386.2 C462.1,1389.8 470.8,1394.6 477.4,1398.6 C484.0,1402.6 490.6,1405.7 497.7,1410.0 C504.8,1414.3 515.0,1421.2 520.3,1424.6 C525.6,1428.0 526.5,1426.6 529.3,1430.2 C532.1,1433.8 535.3,1441.0 537.2,1446.0 C539.1,1451.0 540.0,1457.7 540.6,1460.0" fill="none" stroke="#000" stroke-width="1.4" stroke-linejoin="round" stroke-linecap="round"/>
<path d="M486.4,1414.4 L523.6,1426.3" fill="none" stroke="#000" stroke-width="1.3" stroke-linejoin="round" stroke-linecap="round"/>
<path d="M538.3,1390.2 L548.5,1402" fill="none" stroke="#000" stroke-width="1.3" stroke-linejoin="round" stroke-linecap="round"/>
<path d="M455.0,1440.0 C453.3,1440.8 446.9,1442.1 445.0,1445.0 C443.1,1447.9 442.9,1453.3 443.8,1457.5 C444.6,1461.7 445.6,1465.4 450.0,1470.0 C454.4,1474.6 463.3,1480.8 470.0,1485.0 C476.7,1489.2 480.0,1489.6 490.0,1495.0 C500.0,1500.4 523.3,1513.8 530.0,1517.5" fill="none" stroke="#000" stroke-width="1.4" stroke-linejoin="round" stroke-linecap="round"/>
<path d="M452.5,1440.0 C454.2,1440.4 454.2,1438.8 462.5,1442.5 C470.8,1446.2 489.6,1455.4 502.5,1462.5 C515.4,1469.6 533.8,1481.2 540.0,1485.0" fill="none" stroke="#000" stroke-width="2.8" stroke-linejoin="round" stroke-linecap="round"/>
<path d="M457.5,1450.0 C456.9,1451.7 453.5,1456.7 453.8,1460.0 C454.0,1463.3 453.5,1465.8 458.8,1470.0 C464.0,1474.2 473.1,1478.3 485.0,1485.0 C496.9,1491.7 522.5,1505.8 530.0,1510.0" fill="none" stroke="#000" stroke-width="1.4" stroke-linejoin="round" stroke-linecap="round"/>
<path d="M462,1449 L540,1488" fill="none" stroke="#000" stroke-width="2.2" stroke-linejoin="round" stroke-linecap="round"/>
<path d="M490,1500 L530,1517.5" fill="none" stroke="#000" stroke-width="1.2" stroke-linejoin="round" stroke-linecap="round"/>
<path d="M455.0,1511.2 C453.3,1513.1 446.2,1517.7 445.0,1522.5 C443.8,1527.3 443.3,1534.6 447.5,1540.0 C451.7,1545.4 459.6,1549.2 470.0,1555.0 C480.4,1560.8 503.3,1571.7 510.0,1575.0" fill="none" stroke="#000" stroke-width="1.4" stroke-linejoin="round" stroke-linecap="round"/>
<path d="M455.0,1511.2 C456.7,1511.5 453.8,1506.0 465.0,1512.5 C476.2,1519.0 512.9,1543.8 522.5,1550.0" fill="none" stroke="#000" stroke-width="2.8" stroke-linejoin="round" stroke-linecap="round"/>
<path d="M457.5,1520.0 C457.1,1522.1 453.3,1528.3 455.0,1532.5 C456.7,1536.7 457.5,1539.1 467.5,1545.0 C477.5,1550.9 507.1,1564.2 515.0,1568.0" fill="none" stroke="#000" stroke-width="1.4" stroke-linejoin="round" stroke-linecap="round"/>
<path d="M482.5,1565 L512.5,1577.5" fill="none" stroke="#000" stroke-width="1.2" stroke-linejoin="round" stroke-linecap="round"/>
<path d="M810,1505 Q826,1505 835,1518 Q842,1532 836,1544 Q830,1550 818,1546 L796,1537" fill="none" stroke="#000" stroke-width="2.6" stroke-linejoin="round" stroke-linecap="round"/>
<path d="M804,1518 L830,1533" fill="none" stroke="#000" stroke-width="1.1" stroke-linejoin="round" stroke-linecap="round"/>
<path d="M797.5,1595 Q814,1594 826,1603 Q836,1612 834,1622 Q830,1628 818,1625 L791,1612" fill="none" stroke="#000" stroke-width="2.6" stroke-linejoin="round" stroke-linecap="round"/>
<path d="M796,1602 L826,1617" fill="none" stroke="#000" stroke-width="1.1" stroke-linejoin="round" stroke-linecap="round"/>
<path d="M786,1647 Q806,1648 822,1660 Q836,1672 834,1690 Q830,1702 816,1698 L788,1684" fill="none" stroke="#000" stroke-width="2.6" stroke-linejoin="round" stroke-linecap="round"/>
<path d="M792,1660 L826,1680" fill="none" stroke="#000" stroke-width="1.1" stroke-linejoin="round" stroke-linecap="round"/>
<path d="M697,1695 L805,1752 Q830,1762 833,1745 Q836,1725 815,1712 L740,1668" fill="none" stroke="#000" stroke-width="2.6" stroke-linejoin="round" stroke-linecap="round"/>
<path d="M705,1686 L800,1733" fill="none" stroke="#000" stroke-width="1.1" stroke-linejoin="round" stroke-linecap="round"/>
<path d="M740,1700 L790,1725" fill="none" stroke="#000" stroke-width="1.0" stroke-linejoin="round" stroke-linecap="round"/>
<path d="M891.3,1404.0 L1299.0,1192.1 Q1341.6,1170.0 1340.2,1218.0 L1329.9,1573.0 Q1328.7,1613.0 1293.1,1631.2 L858.0,1853.5 Q838.4,1863.5 839.1,1841.5 L850.1,1469.7 Q851.4,1424.7 891.3,1404.0 Z" fill="none" stroke="#000" stroke-width="2.8" stroke-linejoin="round" stroke-linecap="round"/>
<path d="M892.5,1411.8 L1296.5,1201.9 Q1333.7,1182.5 1332.5,1224.5 L1322.3,1575.4 Q1321.3,1608.3 1291.9,1623.4 L860.5,1843.8 Q846.3,1851.1 846.7,1835.1 L857.6,1467.3 Q858.8,1429.3 892.5,1411.8 Z" fill="none" stroke="#000" stroke-width="1.2" stroke-linejoin="round" stroke-linecap="round"/>
<path d="M904.6,1417.4 L1296.1,1213.9 Q1322.7,1200.1 1321.8,1230.1 L1311.9,1571.8 Q1311.0,1601.8 1284.3,1615.5 L868.0,1828.2 Q857.3,1833.6 857.6,1821.6 L867.9,1475.8 Q869.1,1435.8 904.6,1417.4 Z" fill="none" stroke="#000" stroke-width="3.2" stroke-linejoin="round" stroke-linecap="round"/>
<line x1="1284.3" y1="1615.5" x2="868.0" y2="1828.2" stroke="#fff" stroke-width="4.2"/>
<line x1="1291.9" y1="1623.4" x2="860.5" y2="1843.8" stroke="#fff" stroke-width="2.2"/>
<path d="M1282.5815150989263,1622.5255197169024 L865.7680416391989,1835.4803944908401" fill="none" stroke="#000" stroke-width="1.8" stroke-linejoin="round" stroke-linecap="round"/>
<path d="M1284,1221 Q1300,1208 1314,1210 Q1326,1215 1326,1236 L1324,1290 L1321,1290 Q1320,1250 1316,1237 Q1308,1223 1284,1226 Z" fill="#000" stroke="#000" stroke-width="1" stroke-linejoin="round" stroke-linecap="round"/>
<path d="M1164.6,1376.8 L1294,1426.8" fill="none" stroke="#000" stroke-width="1.3" stroke-linejoin="round" stroke-linecap="round"/>
<path d="M1248.9,1400.3 L1294,1426.8" fill="none" stroke="#000" stroke-width="1.2" stroke-linejoin="round" stroke-linecap="round"/>
<path d="M1141,1388.6 L1294,1455" fill="none" stroke="#000" stroke-width="2.0" stroke-linejoin="round" stroke-linecap="round"/>
<path d="M1207.7,1441.5 L1294,1482.6" fill="none" stroke="#000" stroke-width="1.3" stroke-linejoin="round" stroke-linecap="round"/>
<path d="M1109.7,1408.2 L1294,1520" fill="none" stroke="#000" stroke-width="1.8" stroke-linejoin="round" stroke-linecap="round"/>
<path d="M1137.2,1398.4 L1188,1429.7" fill="none" stroke="#000" stroke-width="1.3" stroke-linejoin="round" stroke-linecap="round"/>
<path d="M1123.5,1508.1 L1272.4,1598.3" fill="none" stroke="#000" stroke-width="1.4" stroke-linejoin="round" stroke-linecap="round"/>
<path d="M1199.9,1509.1 L1229.3,1527.7" fill="none" stroke="#000" stroke-width="1.6" stroke-linejoin="round" stroke-linecap="round"/>
<path d="M1248.9,1539.5 L1309.6,1574.7" fill="none" stroke="#000" stroke-width="1.5" stroke-linejoin="round" stroke-linecap="round"/>
<path d="M1031.4,1361.2 L1074.5,1387.6" fill="none" stroke="#000" stroke-width="1.3" stroke-linejoin="round" stroke-linecap="round"/>
<path d="M1056.8,1348.4 L1066.6,1355.3" fill="none" stroke="#000" stroke-width="1.2" stroke-linejoin="round" stroke-linecap="round"/>
<path d="M1074.5,1360.2 L1100,1374.9" fill="none" stroke="#000" stroke-width="1.3" stroke-linejoin="round" stroke-linecap="round"/>
<path d="M1064.7,1342.5 L1109.7,1371.9" fill="none" stroke="#000" stroke-width="2.0" stroke-linejoin="round" stroke-linecap="round"/>
<path d="M1094,1333.7 L1137.2,1359.2" fill="none" stroke="#000" stroke-width="1.3" stroke-linejoin="round" stroke-linecap="round"/>
<path d="M1117.6,1323.9 L1156.8,1345.5" fill="none" stroke="#000" stroke-width="1.3" stroke-linejoin="round" stroke-linecap="round"/>
<path d="M1192,1365 L1215.6,1378.8" fill="none" stroke="#000" stroke-width="1.8" stroke-linejoin="round" stroke-linecap="round"/>
<path d="M1122.5,1507.5 L1185,1545" fill="none" stroke="#000" stroke-width="1.3" stroke-linejoin="round" stroke-linecap="round"/>
<path d="M1200,1510 L1230,1527.5" fill="none" stroke="#000" stroke-width="1.3" stroke-linejoin="round" stroke-linecap="round"/>
<path d="M1085,1525 L1262,1632" fill="none" stroke="#000" stroke-width="1.3" stroke-linejoin="round" stroke-linecap="round"/>
<path d="M1270,1612 L1302,1585" fill="none" stroke="#000" stroke-width="1.4" stroke-linejoin="round" stroke-linecap="round"/>
<path d="M1294,1426.8 Q1306,1434 1307,1445 Q1306,1456 1294,1455" fill="none" stroke="#000" stroke-width="2.0" stroke-linejoin="round" stroke-linecap="round"/>
<path d="M1294,1482.6 Q1304,1492 1305,1505 Q1303,1520 1294,1520" fill="none" stroke="#000" stroke-width="2.0" stroke-linejoin="round" stroke-linecap="round"/>
<path d="M1313.5,1420 L1311,1580" fill="none" stroke="#000" stroke-width="1.3" stroke-linejoin="round" stroke-linecap="round"/>
<path d="M1088,1518 L1352,1667 Q1378,1683 1370,1703 Q1362,1720 1328,1720 L1160,1713 Q1120,1712 1108,1745 L1097,1828 Q1092,1858 1050,1860 Q1026,1861 1012,1850 L866,1757" fill="none" stroke="#000" stroke-width="12.5" stroke-linejoin="round" stroke-linecap="butt"/>
<path d="M1088,1518 L1352,1667 Q1378,1683 1370,1703 Q1362,1720 1328,1720 L1160,1713 Q1120,1712 1108,1745 L1097,1828 Q1092,1858 1050,1860 Q1026,1861 1012,1850 L866,1757" transform="translate(0 -1.5)" fill="none" stroke="#fff" stroke-width="4.5" stroke-linejoin="round" stroke-linecap="butt"/>
<path d="M868,1754 L1008,1846" fill="none" stroke="#000" stroke-width="5" stroke-linejoin="round" stroke-linecap="round"/>
<path d="M1092,1516 L1340,1658" fill="none" stroke="#000" stroke-width="5" stroke-linejoin="round" stroke-linecap="round"/>
<path d="M916,1420 L1063,1503 Q1080,1513 1098,1504 L1145,1480 Q1160,1470 1145,1460 L1000,1379" fill="none" stroke="#000" stroke-width="10" stroke-linejoin="round" stroke-linecap="butt"/>
<path d="M916,1420 L1063,1503 Q1080,1513 1098,1504 L1145,1480 Q1160,1470 1145,1460 L1000,1379" fill="none" stroke="#fff" stroke-width="3.5" stroke-linejoin="round" stroke-linecap="butt"/>
<path d="M916,1419 L982,1457" fill="none" stroke="#000" stroke-width="8" stroke-linejoin="round" stroke-linecap="round"/>
<path d="M993,1375 L1048,1406" fill="none" stroke="#000" stroke-width="8" stroke-linejoin="round" stroke-linecap="round"/>
<path d="M1126,1306 L1285,1396 Q1300,1404 1318,1396 L1362,1372 Q1378,1360 1363,1349 L1205,1262" fill="none" stroke="#000" stroke-width="10" stroke-linejoin="round" stroke-linecap="butt"/>
<path d="M1126,1306 L1285,1396 Q1300,1404 1318,1396 L1362,1372 Q1378,1360 1363,1349 L1205,1262" fill="none" stroke="#fff" stroke-width="3.5" stroke-linejoin="round" stroke-linecap="butt"/>
<path d="M1128,1306 L1190,1333" fill="none" stroke="#000" stroke-width="7" stroke-linejoin="round" stroke-linecap="round"/>
<path d="M1207,1266 L1268,1292" fill="none" stroke="#000" stroke-width="6" stroke-linejoin="round" stroke-linecap="round"/>
<path d="M950,1458 L1318,1269" fill="none" stroke="#000" stroke-width="2.2" stroke-linejoin="round" stroke-linecap="round"/>
<path d="M952,1462 L1321,1273" fill="none" stroke="#000" stroke-width="1.6" stroke-linejoin="round" stroke-linecap="round"/>
<path d="M968,1460 L1100,1395" fill="none" stroke="#000" stroke-width="1.6" stroke-linejoin="round" stroke-linecap="round"/>
<path d="M986,1468 L1195,1360" fill="none" stroke="#000" stroke-width="2.6" stroke-linejoin="round" stroke-linecap="round"/>
<path d="M1178,1352 L1195,1347 L1197,1357 L1182,1362" fill="none" stroke="#000" stroke-width="2.0" stroke-linejoin="round" stroke-linecap="round"/>
<path d="M1210,1346 L1292,1302" fill="none" stroke="#000" stroke-width="2.2" stroke-linejoin="round" stroke-linecap="round"/>
<path d="M939,1462 L985,1442 L986,1467 L940,1489 Z" fill="#fff" stroke="#000" stroke-width="2.4" stroke-linejoin="round" stroke-linecap="round"/>
<path d="M944,1463 L945,1486" fill="none" stroke="#000" stroke-width="1.2" stroke-linejoin="round" stroke-linecap="round"/>
<rect x="952" y="1466" width="5" height="6" fill="none" stroke="#000" stroke-width="1.3"/>
<path d="M955,1470 L963,1452 L980,1446" fill="none" stroke="#000" stroke-width="4" stroke-linejoin="round" stroke-linecap="round"/>
<path d="M1072,1310 L1100,1296 L1107,1299 L1107,1315 L1078,1332 L1072,1323 Z" fill="#fff" stroke="#000" stroke-width="2.4" stroke-linejoin="round" stroke-linecap="round"/>
<path d="M1078,1313 L1078,1331" fill="none" stroke="#000" stroke-width="1.8" stroke-linejoin="round" stroke-linecap="round"/>
<path d="M1072,1311 L1078,1313 L1107,1300" fill="none" stroke="#000" stroke-width="1.8" stroke-linejoin="round" stroke-linecap="round"/>
<path d="M1183,1279 L1205,1277 L1215,1283 L1220,1300 L1206,1300 L1183,1297 Z" fill="#fff" stroke="#000" stroke-width="2.0" stroke-linejoin="round" stroke-linecap="round"/>
<path d="M1205,1278 L1205,1299" fill="none" stroke="#000" stroke-width="1.5" stroke-linejoin="round" stroke-linecap="round"/>
<circle cx="1218" cy="1298" r="1.8" fill="#000"/>
<ellipse cx="1253" cy="1357" rx="7" ry="9" transform="rotate(20 1253 1357)" fill="#fff" stroke="#000" stroke-width="2.2"/>
<path d="M1258,1352 L1276,1343" fill="none" stroke="#000" stroke-width="3.2" stroke-linejoin="round" stroke-linecap="round"/>
<circle cx="1283" cy="1340" r="2" fill="#000"/>
<path d="M1292,1345 L1303,1336 L1309,1340 L1309,1371 L1305,1369 Q1300,1358 1294,1355 Z" fill="#fff" stroke="#000" stroke-width="2.2" stroke-linejoin="round" stroke-linecap="round"/>
<ellipse cx="1286" cy="1248" rx="15.5" ry="17" fill="#fff" stroke="#000" stroke-width="2.6"/>
<polygon points="1269,1245 1274,1241 1280,1243 1282,1250 1278,1256 1271,1255" fill="#fff" stroke="#000" stroke-width="2"/>
<path d="M962.8,1477 L962,1517" stroke="#000" stroke-width="1.3" stroke-dasharray="6,3" fill="none"/>
<path d="M959,1534 L959,1520 Q962.5,1514 966,1520 L966,1534 Z" fill="#fff" stroke="#000" stroke-width="2.2" stroke-linejoin="round" stroke-linecap="round"/>
<path d="M958.5,1522 L966.5,1520.5" fill="none" stroke="#000" stroke-width="1.3" stroke-linejoin="round" stroke-linecap="round"/>
<path d="M958.5,1526 L966.5,1524.5" fill="none" stroke="#000" stroke-width="1.3" stroke-linejoin="round" stroke-linecap="round"/>
<path d="M958.5,1530 L966.5,1528.5" fill="none" stroke="#000" stroke-width="1.3" stroke-linejoin="round" stroke-linecap="round"/>
<ellipse cx="962.5" cy="1540" rx="9" ry="6" fill="#fff" stroke="#000" stroke-width="2.4"/>
<path d="M954,1540 L954,1544 L962.5,1547 L971,1544 L971,1540" fill="none" stroke="#000" stroke-width="2.0" stroke-linejoin="round" stroke-linecap="round"/>
<ellipse cx="884.5" cy="905" rx="39" ry="20.5" fill="#fff" stroke="#000" stroke-width="4"/>
<ellipse cx="884.5" cy="903" rx="34" ry="16" fill="none" stroke="#000" stroke-width="1.2"/>
<circle cx="907.5" cy="908.5" r="2.6" fill="#000"/>
<path d="M860,869 L860,898 Q862,911 885,911 Q908,911 910,898 L910,869" fill="#fff" stroke="#000" stroke-width="3.2" stroke-linejoin="round" stroke-linecap="round"/>
<path d="M860,871 Q862,884 885,885 Q908,884 910,871" fill="none" stroke="#000" stroke-width="2.4" stroke-linejoin="round" stroke-linecap="round"/>
<path d="M866,842 L866,870 Q868,882 886,882 Q904,882 906,870 L906,842" fill="#fff" stroke="#000" stroke-width="3.2" stroke-linejoin="round" stroke-linecap="round"/>
<ellipse cx="886" cy="841.5" rx="20.5" ry="10.5" fill="#fff" stroke="#000" stroke-width="3.4"/>
<ellipse cx="887" cy="844" rx="11.5" ry="6.8" fill="#000"/>
<ellipse cx="891" cy="845" rx="5.5" ry="3.6" fill="#fff"/>
<path d="M757,1150 L757,1094 Q762,1083 775,1083 L790,1083 Q802,1086 810,1096 Q822,1093 832,1101 Q838,1112 837,1125 L835,1157" fill="none" stroke="#000" stroke-width="3.0" stroke-linejoin="round" stroke-linecap="round"/>
<path d="M760,1094 Q764,1086 776,1086" fill="none" stroke="#000" stroke-width="1.2" stroke-linejoin="round" stroke-linecap="round"/>
<ellipse cx="786" cy="1160" rx="35" ry="16.5" fill="#fff" stroke="#000" stroke-width="3.2"/>
<path d="M762,1157 Q770,1165 782,1166" fill="none" stroke="#000" stroke-width="1.8" stroke-linejoin="round" stroke-linecap="round"/>
<path d="M795,1166 Q808,1164 812,1157" fill="none" stroke="#000" stroke-width="1.8" stroke-linejoin="round" stroke-linecap="round"/>
<path d="M757,1165 Q768,1170 773,1170" fill="none" stroke="#000" stroke-width="1.2" stroke-linejoin="round" stroke-linecap="round"/>
<ellipse cx="785" cy="1170" rx="4" ry="2.5" fill="#000"/>
<path d="M761,1122 L761,1152 Q770,1160 786,1160 Q803,1160 813,1152 L813,1122" fill="#fff" stroke="#000" stroke-width="3.0" stroke-linejoin="round" stroke-linecap="round"/>
<ellipse cx="786.5" cy="1121" rx="26" ry="10" fill="#fff" stroke="#000" stroke-width="2.8"/>
<ellipse cx="788" cy="1123" rx="16.5" ry="6.8" fill="none" stroke="#000" stroke-width="3.0"/>
<path d="M763,1132 L767,1136" fill="none" stroke="#000" stroke-width="1.5" stroke-linejoin="round" stroke-linecap="round"/>
<path d="M800,1140 Q808,1138 812,1133" fill="none" stroke="#000" stroke-width="1.5" stroke-linejoin="round" stroke-linecap="round"/>
<path d="M755.5,1095 L755,1190" fill="none" stroke="#000" stroke-width="1.4" stroke-linejoin="round" stroke-linecap="round"/>
<path d="M853.6,1108 L853.6,1136" fill="none" stroke="#000" stroke-width="1.2" stroke-linejoin="round" stroke-linecap="round"/>
<path d="M768,1190 L772,1184 L783,1181 L795,1184 L799,1192 L799,1207 L794,1214 L782,1216 L770,1213 L766,1205 Z" fill="#fff" stroke="#000" stroke-width="3.0" stroke-linejoin="round" stroke-linecap="round"/>
<ellipse cx="783" cy="1196" rx="10" ry="5" fill="none" stroke="#000" stroke-width="1.8"/>
<path d="M772,1207 L782,1210 L794,1207" fill="none" stroke="#000" stroke-width="1.3" stroke-linejoin="round" stroke-linecap="round"/>
<polygon points="783,1182 781,1188 786,1188" fill="#000"/>
<ellipse cx="752.5" cy="1213" rx="9.5" ry="5.5" fill="#fff" stroke="#000" stroke-width="2.4"/>
<path d="M744,1213 L744,1218 L752,1220 L761,1218 L761,1213" fill="none" stroke="#000" stroke-width="2" stroke-linejoin="round" stroke-linecap="round"/>
<path d="M750,1212 L750,1199 Q752.5,1194 755,1199 L755,1212" fill="#fff" stroke="#000" stroke-width="2.2" stroke-linejoin="round" stroke-linecap="round"/>
<path d="M825,1195 L845,1183 L858,1186 L858,1200 L843,1214 L825,1208 Z" fill="#fff" stroke="#000" stroke-width="2.4" stroke-linejoin="round" stroke-linecap="round"/>
<path d="M828,1196 L843,1206 L857,1196" fill="none" stroke="#000" stroke-width="1.4" stroke-linejoin="round" stroke-linecap="round"/>
<path d="M843,1206 L843,1214" fill="none" stroke="#000" stroke-width="1.4" stroke-linejoin="round" stroke-linecap="round"/>
<path d="M849,1214 L849,1250" fill="none" stroke="#000" stroke-width="1.2" stroke-linejoin="round" stroke-linecap="round"/>
<path d="M846,1255 L853,1255 L851,1282 L848,1282 Z" fill="#fff" stroke="#000" stroke-width="1.8" stroke-linejoin="round" stroke-linecap="round"/>
<path d="M845.5,1259 L853.5,1257" fill="none" stroke="#000" stroke-width="1.2" stroke-linejoin="round" stroke-linecap="round"/>
<path d="M845.5,1263 L853.5,1261" fill="none" stroke="#000" stroke-width="1.2" stroke-linejoin="round" stroke-linecap="round"/>
<path d="M845.5,1267 L853.5,1265" fill="none" stroke="#000" stroke-width="1.2" stroke-linejoin="round" stroke-linecap="round"/>
<path d="M845.5,1271 L853.5,1269" fill="none" stroke="#000" stroke-width="1.2" stroke-linejoin="round" stroke-linecap="round"/>
<path d="M845.5,1275 L853.5,1273" fill="none" stroke="#000" stroke-width="1.2" stroke-linejoin="round" stroke-linecap="round"/>
<path d="M845.5,1279 L853.5,1277" fill="none" stroke="#000" stroke-width="1.2" stroke-linejoin="round" stroke-linecap="round"/>
<ellipse cx="849.5" cy="1283" rx="9" ry="4" fill="#fff" stroke="#000" stroke-width="2"/>
<path d="M772.5,1257 Q770,1272 762,1283 Q756,1293 760,1302 Q766,1313 779,1313 Q795,1312 802,1300 Q806,1290 802,1282 Q796,1272 794,1257 Z" fill="#fff" stroke="#000" stroke-width="2.8" stroke-linejoin="round" stroke-linecap="round"/>
<path d="M765,1288 Q763,1297 768,1303" fill="none" stroke="#000" stroke-width="1.2" stroke-linejoin="round" stroke-linecap="round"/>
<path d="M786,1306 Q794,1302 797,1293" fill="none" stroke="#000" stroke-width="1.2" stroke-linejoin="round" stroke-linecap="round"/>
<path d="M783,1303 Q790,1300 792,1295" fill="none" stroke="#000" stroke-width="1.0" stroke-linejoin="round" stroke-linecap="round"/>
<path d="M772.5,1257 L772.5,1236 Q773,1229 783,1229 Q794,1229 794,1236 L794,1257 Z" fill="#fff" stroke="#000" stroke-width="2.6" stroke-linejoin="round" stroke-linecap="round"/>
<rect x="786" y="1232" width="8" height="24" fill="#000"/>
<path d="M773,1240 L786,1238" fill="none" stroke="#000" stroke-width="1.6" stroke-linejoin="round" stroke-linecap="round"/>
<path d="M773,1246 L786,1244" fill="none" stroke="#000" stroke-width="1.6" stroke-linejoin="round" stroke-linecap="round"/>
<path d="M773,1252 L786,1250" fill="none" stroke="#000" stroke-width="1.6" stroke-linejoin="round" stroke-linecap="round"/>
<ellipse cx="780.5" cy="1356.5" rx="30" ry="19" fill="#fff" stroke="#000" stroke-width="2.6"/>
<ellipse cx="781" cy="1356" rx="24" ry="14.5" fill="none" stroke="#000" stroke-width="1.6"/>
<path d="M760,1362 Q770,1370 785,1369 Q800,1367 806,1360 Q795,1366 780,1364 Q768,1363 760,1362 Z" fill="#000"/>
<circle cx="765" cy="1360" r="1.1" fill="#000"/>
<circle cx="770" cy="1364" r="1.1" fill="#000"/>
<circle cx="776" cy="1363" r="1.1" fill="#000"/>
<circle cx="783" cy="1366" r="1.1" fill="#000"/>
<circle cx="790" cy="1364" r="1.1" fill="#000"/>
<circle cx="797" cy="1362" r="1.1" fill="#000"/>
<circle cx="768" cy="1358" r="1.1" fill="#000"/>
<circle cx="786" cy="1361" r="1.1" fill="#000"/>
<path d="M815.6,1357.4 L842.3,1344" fill="none" stroke="#000" stroke-width="1.3" stroke-linejoin="round" stroke-linecap="round"/>
<rect x="775.5" y="1375" width="6" height="12" fill="#000"/>
<ellipse cx="779" cy="1400" rx="34.5" ry="20" fill="#fff" stroke="#000" stroke-width="2.6"/>
<ellipse cx="779" cy="1400" rx="31" ry="17" fill="none" stroke="#000" stroke-width="1.0"/>
<ellipse cx="780" cy="1401" rx="25" ry="12.5" fill="none" stroke="#000" stroke-width="2.2"/>
<polygon points="749,1398 755,1394 755,1402" fill="none" stroke="#000" stroke-width="1.3"/>
<polygon points="808,1402 802,1398 802,1406" fill="none" stroke="#000" stroke-width="1.3"/>
<path d="M778.5,1407 L778,1430" fill="none" stroke="#000" stroke-width="1.4" stroke-linejoin="round" stroke-linecap="round"/>
<path d="M776,1432 L780,1432 L779.5,1444 L776.5,1444 Z" fill="#fff" stroke="#000" stroke-width="1.6" stroke-linejoin="round" stroke-linecap="round"/>
<ellipse cx="778" cy="1446" rx="9" ry="4.5" fill="#fff" stroke="#000" stroke-width="2"/>
<path d="M555,1490 L744,1395" fill="none" stroke="#000" stroke-width="1.3" stroke-linejoin="round" stroke-linecap="round"/>
<ellipse cx="657.5" cy="1408" rx="12" ry="17" transform="rotate(28 657.5 1408)" fill="#fff" stroke="#000" stroke-width="2.4"/>
<ellipse cx="660" cy="1406" rx="10" ry="15" transform="rotate(28 660 1406)" fill="none" stroke="#000" stroke-width="1.0"/>
<ellipse cx="694.5" cy="1388.5" rx="12" ry="17" transform="rotate(28 694.5 1388.5)" fill="#fff" stroke="#000" stroke-width="2.4"/>
<ellipse cx="697" cy="1386.5" rx="10" ry="15" transform="rotate(28 697 1386.5)" fill="none" stroke="#000" stroke-width="1.0"/>
<ellipse cx="677" cy="1403" rx="4.5" ry="4" fill="#000"/>
<circle cx="646" cy="1356" r="1.2" fill="#000"/>
<ellipse cx="293.7" cy="1284" rx="15.5" ry="15" fill="#fff" stroke="#000" stroke-width="2.8"/>
<circle cx="301.6" cy="1291.4" r="4" fill="#fff" stroke="#000" stroke-width="1.8"/>
<path d="M289,1276 Q293,1273 298,1275 Q304,1278 305,1284" fill="none" stroke="#000" stroke-width="1.6" stroke-linejoin="round" stroke-linecap="round"/>
<path d="M286,1284 Q286,1292 291,1295" fill="none" stroke="#000" stroke-width="1.4" stroke-linejoin="round" stroke-linecap="round"/>
<path d="M284,1277 Q288,1273 292,1272" fill="none" stroke="#000" stroke-width="1.2" stroke-linejoin="round" stroke-linecap="round"/>
<path d="M337.2,1323.8 L312.9,1306.8 Q304.9,1300.9 313.2,1296.4 Q315.0,1287.2 323.1,1293.2 L347.4,1310.2" fill="#fff" stroke="#000" stroke-width="2.8" stroke-linejoin="round" stroke-linecap="round"/>
<ellipse cx="342.3" cy="1317" rx="5.8" ry="8.2" transform="rotate(30 342.3 1317)" fill="#fff" stroke="#000" stroke-width="2.4"/>
<circle cx="342.3" cy="1317" r="2.2" fill="none" stroke="#000" stroke-width="1.3"/>
<path d="M351.7,1317 Q357,1309 365,1307.5 Q376,1308 378.3,1317 L378.8,1331 Q378,1342 376.4,1350 Q373,1362 369.8,1366.4 Q363,1374 351.7,1375 L346,1369 L344,1360 L343.5,1330 Q345,1322 351.7,1317 Z" fill="#fff" stroke="#000" stroke-width="2.8" stroke-linejoin="round" stroke-linecap="round"/>
<path d="M350,1322 L348.5,1370" fill="none" stroke="#000" stroke-width="1.2" stroke-linejoin="round" stroke-linecap="round"/>
<ellipse cx="363.6" cy="1327.5" rx="4.2" ry="5.8" transform="rotate(35 363.6 1327.5)" fill="#000"/>
<ellipse cx="362.7" cy="1355.3" rx="3.8" ry="6" transform="rotate(25 362.7 1355.3)" fill="#000"/>
<path d="M372.3,1340.9 L401.3,1357.9 M375.7,1335.1 L404.7,1352.1 M372.3,1340.9 L375.7,1335.1" fill="none" stroke="#000" stroke-width="2.4" stroke-linejoin="round" stroke-linecap="round"/>
<path d="M375.5980762113533,1341.2320508075688 L379.3301270189222,1338.7679491924312" fill="none" stroke="#000" stroke-width="1.0" stroke-linejoin="round" stroke-linecap="round"/>
<path d="M379.06217782649105,1343.2320508075688 L382.79422863405995,1340.7679491924312" fill="none" stroke="#000" stroke-width="1.0" stroke-linejoin="round" stroke-linecap="round"/>
<path d="M382.52627944162884,1345.2320508075688 L386.25833024919774,1342.7679491924312" fill="none" stroke="#000" stroke-width="1.0" stroke-linejoin="round" stroke-linecap="round"/>
<path d="M385.9903810567666,1347.2320508075688 L389.7224318643355,1344.7679491924312" fill="none" stroke="#000" stroke-width="1.0" stroke-linejoin="round" stroke-linecap="round"/>
<path d="M389.4544826719043,1349.2320508075688 L393.1865334794732,1346.7679491924312" fill="none" stroke="#000" stroke-width="1.0" stroke-linejoin="round" stroke-linecap="round"/>
<path d="M392.9185842870421,1351.2320508075688 L396.650635094611,1348.7679491924312" fill="none" stroke="#000" stroke-width="1.0" stroke-linejoin="round" stroke-linecap="round"/>
<path d="M396.38268590217984,1353.2320508075688 L400.11473670974874,1350.7679491924312" fill="none" stroke="#000" stroke-width="1.0" stroke-linejoin="round" stroke-linecap="round"/>
<circle cx="410.5" cy="1358" r="9.5" fill="#fff" stroke="#000" stroke-width="2.8"/>
<path d="M407,1354 L413,1354" fill="none" stroke="#000" stroke-width="1.3" stroke-linejoin="round" stroke-linecap="round"/>
<path d="M410,1354 L409,1362" fill="none" stroke="#000" stroke-width="1.3" stroke-linejoin="round" stroke-linecap="round"/>
<path d="M406,1362 L412,1362" fill="none" stroke="#000" stroke-width="1.3" stroke-linejoin="round" stroke-linecap="round"/>
<path d="M379,1371 L393,1379 L392,1385 L379,1378 Q375,1374 379,1371 Z" fill="#fff" stroke="#000" stroke-width="2.4" stroke-linejoin="round" stroke-linecap="round"/>
<circle cx="399.7" cy="1383" r="8" fill="#fff" stroke="#000" stroke-width="2.6"/>
<path d="M397,1380 L402,1380 L399,1387" fill="none" stroke="#000" stroke-width="1.3" stroke-linejoin="round" stroke-linecap="round"/>
<path d="M1068.5294117647059,534.4117647058823 L1354.5294117647059,711.4117647058823" fill="none" stroke="#000" stroke-width="3.8" stroke-linejoin="round" stroke-linecap="round"/>
<line x1="1071.4" y1="536.2" x2="1268.7" y2="658.3" stroke="#fff" stroke-width="0.9"/>
<path d="M1082.0588235294117,527.8235294117648 L1368.0588235294117,704.8235294117648" fill="none" stroke="#000" stroke-width="3.8" stroke-linejoin="round" stroke-linecap="round"/>
<line x1="1084.9" y1="529.6" x2="1282.3" y2="651.7" stroke="#fff" stroke-width="0.9"/>
<path d="M1095.5882352941176,521.2352941176471 L1381.5882352941176,698.2352941176471" fill="none" stroke="#000" stroke-width="3.8" stroke-linejoin="round" stroke-linecap="round"/>
<line x1="1098.4" y1="523.0" x2="1295.8" y2="645.1" stroke="#fff" stroke-width="0.9"/>
<path d="M1109.1176470588234,514.6470588235294 L1395.1176470588234,691.6470588235294" fill="none" stroke="#000" stroke-width="3.8" stroke-linejoin="round" stroke-linecap="round"/>
<line x1="1112.0" y1="516.4" x2="1309.3" y2="638.5" stroke="#fff" stroke-width="0.9"/>
<path d="M1122.6470588235295,508.05882352941177 L1408.6470588235295,685.0588235294117" fill="none" stroke="#000" stroke-width="3.8" stroke-linejoin="round" stroke-linecap="round"/>
<line x1="1125.5" y1="509.8" x2="1322.8" y2="632.0" stroke="#fff" stroke-width="0.9"/>
<path d="M1136.1764705882354,501.47058823529414 L1422.1764705882354,678.4705882352941" fill="none" stroke="#000" stroke-width="3.8" stroke-linejoin="round" stroke-linecap="round"/>
<line x1="1139.0" y1="503.2" x2="1336.4" y2="625.4" stroke="#fff" stroke-width="0.9"/>
<path d="M1149.7058823529412,494.88235294117646 L1435.7058823529412,671.8823529411765" fill="none" stroke="#000" stroke-width="3.8" stroke-linejoin="round" stroke-linecap="round"/>
<line x1="1152.6" y1="496.7" x2="1349.9" y2="618.8" stroke="#fff" stroke-width="0.9"/>
<path d="M1163.235294117647,488.29411764705884 L1449.235294117647,665.2941176470588" fill="none" stroke="#000" stroke-width="3.8" stroke-linejoin="round" stroke-linecap="round"/>
<line x1="1166.1" y1="490.1" x2="1363.4" y2="612.2" stroke="#fff" stroke-width="0.9"/>
<path d="M1176.764705882353,481.70588235294116 L1462.764705882353,658.7058823529412" fill="none" stroke="#000" stroke-width="3.8" stroke-linejoin="round" stroke-linecap="round"/>
<line x1="1179.6" y1="483.5" x2="1377.0" y2="605.6" stroke="#fff" stroke-width="0.9"/>
<path d="M1190.2941176470588,475.11764705882354 L1476.2941176470588,652.1176470588235" fill="none" stroke="#000" stroke-width="3.8" stroke-linejoin="round" stroke-linecap="round"/>
<line x1="1193.2" y1="476.9" x2="1390.5" y2="599.0" stroke="#fff" stroke-width="0.9"/>
<path d="M1203.8235294117646,468.52941176470586 L1489.8235294117646,645.5294117647059" fill="none" stroke="#000" stroke-width="3.8" stroke-linejoin="round" stroke-linecap="round"/>
<line x1="1206.7" y1="470.3" x2="1404.0" y2="592.4" stroke="#fff" stroke-width="0.9"/>
<path d="M1217.3529411764707,461.94117647058823 L1503.3529411764707,638.9411764705883" fill="none" stroke="#000" stroke-width="3.8" stroke-linejoin="round" stroke-linecap="round"/>
<line x1="1220.2" y1="463.7" x2="1417.6" y2="585.8" stroke="#fff" stroke-width="0.9"/>
<path d="M1230.8823529411766,455.3529411764706 L1516.8823529411766,632.3529411764706" fill="none" stroke="#000" stroke-width="3.8" stroke-linejoin="round" stroke-linecap="round"/>
<line x1="1233.7" y1="457.1" x2="1431.1" y2="579.3" stroke="#fff" stroke-width="0.9"/>
<path d="M1244.4117647058824,448.7647058823529 L1530.4117647058824,625.7647058823529" fill="none" stroke="#000" stroke-width="3.8" stroke-linejoin="round" stroke-linecap="round"/>
<line x1="1247.3" y1="450.5" x2="1444.6" y2="572.7" stroke="#fff" stroke-width="0.9"/>
<path d="M1257.9411764705883,442.1764705882353 L1543.9411764705883,619.1764705882354" fill="none" stroke="#000" stroke-width="3.8" stroke-linejoin="round" stroke-linecap="round"/>
<line x1="1260.8" y1="443.9" x2="1458.1" y2="566.1" stroke="#fff" stroke-width="0.9"/>
<path d="M1271.4705882352941,435.5882352941177 L1557.4705882352941,612.5882352941177" fill="none" stroke="#000" stroke-width="3.8" stroke-linejoin="round" stroke-linecap="round"/>
<line x1="1274.3" y1="437.4" x2="1471.7" y2="559.5" stroke="#fff" stroke-width="0.9"/>
<path d="M1335.59,709.565 L1556.39,602.0450000000001" fill="none" stroke="#000" stroke-width="1.4" stroke-linejoin="round" stroke-linecap="round"/>
<path d="M1285,429 L1055,541 L1266.6399999999999,671.98 L1279.2600000000002,672.16 L1293.5600000000002,681.01 L1292.38,687.91 L1341,718 L1571,606 L1285.0,429.0" fill="none" stroke="#000" stroke-width="2.8" stroke-linejoin="round" stroke-linecap="round"/>
<path d="M1285.7839999999999,433.04599999999994 L1062.224,541.91 L1269.86,670.412 L1282.48,670.592 L1296.78,679.442 L1295.6000000000001,686.342 L1340.2160000000001,713.954 L1563.776,605.0899999999999 L1285.7839999999999,433.04599999999994" fill="none" stroke="#000" stroke-width="1.6" stroke-linejoin="round" stroke-linecap="round"/>
<polygon points="1070,489 1337,664 1585,541 1318,366" fill="#fff"/>
<path d="M1086.5333333333333,480.8 L1353.5333333333333,655.8" fill="none" stroke="#000" stroke-width="3.6" stroke-linejoin="round" stroke-linecap="round"/>
<line x1="1089.2" y1="482.6" x2="1273.4" y2="603.3" stroke="#fff" stroke-width="0.9"/>
<path d="M1103.0666666666666,472.6 L1370.0666666666666,647.6" fill="none" stroke="#000" stroke-width="3.6" stroke-linejoin="round" stroke-linecap="round"/>
<line x1="1105.7" y1="474.4" x2="1290.0" y2="595.1" stroke="#fff" stroke-width="0.9"/>
<path d="M1119.6,464.4 L1386.6,639.4" fill="none" stroke="#000" stroke-width="3.6" stroke-linejoin="round" stroke-linecap="round"/>
<line x1="1122.3" y1="466.1" x2="1306.5" y2="586.9" stroke="#fff" stroke-width="0.9"/>
<path d="M1136.1333333333332,456.2 L1403.1333333333332,631.2" fill="none" stroke="#000" stroke-width="3.6" stroke-linejoin="round" stroke-linecap="round"/>
<line x1="1138.8" y1="457.9" x2="1323.0" y2="578.7" stroke="#fff" stroke-width="0.9"/>
<path d="M1152.6666666666667,448.0 L1419.6666666666667,623.0" fill="none" stroke="#000" stroke-width="3.6" stroke-linejoin="round" stroke-linecap="round"/>
<line x1="1155.3" y1="449.8" x2="1339.6" y2="570.5" stroke="#fff" stroke-width="0.9"/>
<path d="M1169.2,439.8 L1436.2,614.8" fill="none" stroke="#000" stroke-width="3.6" stroke-linejoin="round" stroke-linecap="round"/>
<line x1="1171.9" y1="441.6" x2="1356.1" y2="562.3" stroke="#fff" stroke-width="0.9"/>
<path d="M1185.7333333333333,431.6 L1452.7333333333333,606.6" fill="none" stroke="#000" stroke-width="3.6" stroke-linejoin="round" stroke-linecap="round"/>
<line x1="1188.4" y1="433.4" x2="1372.6" y2="554.1" stroke="#fff" stroke-width="0.9"/>
<path d="M1202.2666666666667,423.4 L1469.2666666666667,598.4" fill="none" stroke="#000" stroke-width="3.6" stroke-linejoin="round" stroke-linecap="round"/>
<line x1="1204.9" y1="425.1" x2="1389.2" y2="545.9" stroke="#fff" stroke-width="0.9"/>
<path d="M1218.8,415.2 L1485.8,590.2" fill="none" stroke="#000" stroke-width="3.6" stroke-linejoin="round" stroke-linecap="round"/>
<line x1="1221.5" y1="416.9" x2="1405.7" y2="537.7" stroke="#fff" stroke-width="0.9"/>
<path d="M1235.3333333333333,407.0 L1502.3333333333333,582.0" fill="none" stroke="#000" stroke-width="3.6" stroke-linejoin="round" stroke-linecap="round"/>
<line x1="1238.0" y1="408.8" x2="1422.2" y2="529.5" stroke="#fff" stroke-width="0.9"/>
<path d="M1251.8666666666666,398.8 L1518.8666666666666,573.8" fill="none" stroke="#000" stroke-width="3.6" stroke-linejoin="round" stroke-linecap="round"/>
<line x1="1254.5" y1="400.6" x2="1438.8" y2="521.3" stroke="#fff" stroke-width="0.9"/>
<path d="M1268.4,390.6 L1535.4,565.6" fill="none" stroke="#000" stroke-width="3.6" stroke-linejoin="round" stroke-linecap="round"/>
<line x1="1271.1" y1="392.4" x2="1455.3" y2="513.1" stroke="#fff" stroke-width="0.9"/>
<path d="M1284.9333333333334,382.4 L1551.9333333333334,557.4" fill="none" stroke="#000" stroke-width="3.6" stroke-linejoin="round" stroke-linecap="round"/>
<line x1="1287.6" y1="384.1" x2="1471.8" y2="504.9" stroke="#fff" stroke-width="0.9"/>
<path d="M1301.4666666666667,374.2 L1568.4666666666667,549.2" fill="none" stroke="#000" stroke-width="3.6" stroke-linejoin="round" stroke-linecap="round"/>
<line x1="1304.1" y1="375.9" x2="1488.4" y2="496.7" stroke="#fff" stroke-width="0.9"/>
<path d="M1332.615,655.415 L1570.695,537.335" fill="none" stroke="#000" stroke-width="1.4" stroke-linejoin="round" stroke-linecap="round"/>
<path d="M1318,366 L1070,489 L1267.58,618.5 L1280.3600000000001,618.31 L1293.71,627.06 L1291.61,634.25 L1337,664 L1585,541 L1318.0,366.0" fill="none" stroke="#000" stroke-width="2.8" stroke-linejoin="round" stroke-linecap="round"/>
<path d="M1318.266,370.172 L1077.21,489.728 L1271.052,616.778 L1283.832,616.588 L1297.182,625.338 L1295.0819999999999,632.528 L1336.734,659.828 L1577.79,540.2719999999999 L1318.266,370.172" fill="none" stroke="#000" stroke-width="1.6" stroke-linejoin="round" stroke-linecap="round"/>
<path d="M1571,606 L1570,594 L1582,586 L1586,578 L1580,574 L1560,562" fill="none" stroke="#000" stroke-width="2.4" stroke-linejoin="round" stroke-linecap="round"/>
<path d="M1585,541 L1588,532 L1580,522 L1566,514 L1562,505 L1555,500" fill="none" stroke="#000" stroke-width="2.4" stroke-linejoin="round" stroke-linecap="round"/>
<path d="M1341,718 L1338,706 L1346,700" fill="none" stroke="#000" stroke-width="2.2" stroke-linejoin="round" stroke-linecap="round"/>
<path d="M1337,664 L1334,652 L1342,646" fill="none" stroke="#000" stroke-width="2.2" stroke-linejoin="round" stroke-linecap="round"/>
<path d="M1067,478 Q1063,472 1070,470 Q1076,470 1074,476 L1072,482" fill="none" stroke="#000" stroke-width="2.0" stroke-linejoin="round" stroke-linecap="round"/>
<path d="M1086,470 L1088,462 L1100,458" fill="none" stroke="#000" stroke-width="2.0" stroke-linejoin="round" stroke-linecap="round"/>
<path d="M1052,528 Q1050,518 1060,518 Q1068,520 1062,528 L1056,536 L1068,536" fill="none" stroke="#000" stroke-width="2.0" stroke-linejoin="round" stroke-linecap="round"/>
<path d="M1050,540 Q1046,532 1054,530" fill="none" stroke="#000" stroke-width="1.6" stroke-linejoin="round" stroke-linecap="round"/>
<path d="M1162,462 L1330,372 L1541,470 L1536,512 Q1534,522 1522,530 L1385,603 Q1368,612 1352,602 L1172,478 Q1160,470 1162,462 Z" fill="#fff"/>
<path d="M1217,431 L1170,456 Q1160,462 1163,470 Q1166,476 1174,480 L1352,602 Q1368,612 1385,603 L1522,530 Q1534,522 1536,512 L1539,490" fill="none" stroke="#000" stroke-width="3.0" stroke-linejoin="round" stroke-linecap="round"/>
<path d="M1176,472 L1355,595 Q1368,603 1382,596 L1518,523" fill="none" stroke="#000" stroke-width="1.4" stroke-linejoin="round" stroke-linecap="round"/>
<path d="M1180,460 L1215,441" fill="none" stroke="#000" stroke-width="1.3" stroke-linejoin="round" stroke-linecap="round"/>
<path d="M1177.4,382.4 L1311.1,311.4 Q1327.0,303.0 1341.9,313.0 L1529.4,439.2 Q1541.0,447.0 1528.6,453.6 L1397.4,523.6 Q1378.0,534.0 1359.8,521.6 L1176.6,396.9 Q1165.0,389.0 1177.4,382.4 Z" fill="#fff" stroke="#000" stroke-width="3.0" stroke-linejoin="round" stroke-linecap="round"/>
<path d="M1193,398 Q1180,392 1183,384 Q1186,376 1197,370.5 L1242,351" fill="none" stroke="#000" stroke-width="1.4" stroke-linejoin="round" stroke-linecap="round"/>
<path d="M1251,347 L1316,316 Q1330,312 1341,319" fill="none" stroke="#000" stroke-width="1.4" stroke-linejoin="round" stroke-linecap="round"/>
<path d="M1351,324.6 L1368,334" fill="none" stroke="#000" stroke-width="1.2" stroke-linejoin="round" stroke-linecap="round"/>
<path d="M1398,356.6 L1447,387.6" fill="none" stroke="#000" stroke-width="1.2" stroke-linejoin="round" stroke-linecap="round"/>
<path d="M1479,411 L1513.5,432.5" fill="none" stroke="#000" stroke-width="1.2" stroke-linejoin="round" stroke-linecap="round"/>
<path d="M1165,392 Q1166,398 1172,402 L1374,532 Q1380,536 1388,532" fill="none" stroke="#000" stroke-width="4.0" stroke-linejoin="round" stroke-linecap="round"/>
<path d="M1391,530 L1532,458" fill="none" stroke="#000" stroke-width="3.6" stroke-linejoin="round" stroke-linecap="round"/>
<path d="M1205.9,393.9 L1309.3,345.0 Q1322.0,339.0 1334.5,345.4 L1520.3,440.5 Q1531.0,446.0 1520.3,451.3 L1394.3,513.9 Q1380.0,521.0 1366.6,512.2 L1205.0,405.6 Q1195.0,399.0 1205.9,393.9 Z" fill="none" stroke="#000" stroke-width="2.2" stroke-linejoin="round" stroke-linecap="round"/>
<line x1="1270" y1="380" x2="1310" y2="404.5" stroke="#000" stroke-width="5.5" stroke-linecap="round"/>
<line x1="1272" y1="381" x2="1308" y2="403.1" stroke="#fff" stroke-width="1.3" stroke-linecap="round"/>
<line x1="1317" y1="411" x2="1393.5" y2="459" stroke="#000" stroke-width="5.5" stroke-linecap="round"/>
<line x1="1319" y1="412" x2="1391.5" y2="457.6" stroke="#fff" stroke-width="1.3" stroke-linecap="round"/>
<line x1="1399" y1="464.5" x2="1445" y2="493.5" stroke="#000" stroke-width="5.5" stroke-linecap="round"/>
<line x1="1401" y1="465.5" x2="1443" y2="492.1" stroke="#fff" stroke-width="1.3" stroke-linecap="round"/>
<ellipse cx="1316.8" cy="357.7" rx="2.7" ry="2" fill="#000"/>
<ellipse cx="1330.8" cy="366.9" rx="2.7" ry="2" fill="#000"/>
<ellipse cx="1344.8" cy="376.1" rx="2.7" ry="2" fill="#000"/>
<ellipse cx="1358.8" cy="385.3" rx="2.7" ry="2" fill="#000"/>
<ellipse cx="1372.8" cy="394.5" rx="2.7" ry="2" fill="#000"/>
<ellipse cx="1386.8" cy="403.7" rx="2.7" ry="2" fill="#000"/>
<ellipse cx="1400.8" cy="412.9" rx="2.7" ry="2" fill="#000"/>
<ellipse cx="1414.8" cy="422.1" rx="2.7" ry="2" fill="#000"/>
<ellipse cx="1428.8" cy="431.3" rx="2.7" ry="2" fill="#000"/>
<ellipse cx="1442.8" cy="440.5" rx="2.7" ry="2" fill="#000"/>
<ellipse cx="1456.8" cy="449.7" rx="2.7" ry="2" fill="#000"/>
<ellipse cx="1470.8" cy="458.9" rx="2.7" ry="2" fill="#000"/>
<ellipse cx="1484.8" cy="468.1" rx="2.7" ry="2" fill="#000"/>
<ellipse cx="1289.0" cy="370.5" rx="2.7" ry="2" fill="#000"/>
<ellipse cx="1303.0" cy="379.7" rx="2.7" ry="2" fill="#000"/>
<ellipse cx="1317.0" cy="388.9" rx="2.7" ry="2" fill="#000"/>
<ellipse cx="1331.0" cy="398.1" rx="2.7" ry="2" fill="#000"/>
<ellipse cx="1345.0" cy="407.3" rx="2.7" ry="2" fill="#000"/>
<ellipse cx="1359.0" cy="416.5" rx="2.7" ry="2" fill="#000"/>
<ellipse cx="1373.0" cy="425.7" rx="2.7" ry="2" fill="#000"/>
<ellipse cx="1387.0" cy="434.9" rx="2.7" ry="2" fill="#000"/>
<ellipse cx="1401.0" cy="444.1" rx="2.7" ry="2" fill="#000"/>
<ellipse cx="1415.0" cy="453.3" rx="2.7" ry="2" fill="#000"/>
<ellipse cx="1429.0" cy="462.5" rx="2.7" ry="2" fill="#000"/>
<ellipse cx="1443.0" cy="471.7" rx="2.7" ry="2" fill="#000"/>
<ellipse cx="1457.0" cy="480.9" rx="2.7" ry="2" fill="#000"/>
<ellipse cx="1246.3" cy="391.5" rx="2.7" ry="2" fill="#000"/>
<ellipse cx="1260.3" cy="400.7" rx="2.7" ry="2" fill="#000"/>
<ellipse cx="1274.3" cy="409.9" rx="2.7" ry="2" fill="#000"/>
<ellipse cx="1288.3" cy="419.1" rx="2.7" ry="2" fill="#000"/>
<ellipse cx="1302.3" cy="428.3" rx="2.7" ry="2" fill="#000"/>
<ellipse cx="1316.3" cy="437.5" rx="2.7" ry="2" fill="#000"/>
<ellipse cx="1330.3" cy="446.7" rx="2.7" ry="2" fill="#000"/>
<ellipse cx="1344.3" cy="455.9" rx="2.7" ry="2" fill="#000"/>
<ellipse cx="1358.3" cy="465.1" rx="2.7" ry="2" fill="#000"/>
<ellipse cx="1372.3" cy="474.3" rx="2.7" ry="2" fill="#000"/>
<ellipse cx="1386.3" cy="483.5" rx="2.7" ry="2" fill="#000"/>
<ellipse cx="1400.3" cy="492.7" rx="2.7" ry="2" fill="#000"/>
<ellipse cx="1414.3" cy="501.9" rx="2.7" ry="2" fill="#000"/>
<ellipse cx="1222.8" cy="403.7" rx="2.7" ry="2" fill="#000"/>
<ellipse cx="1236.8" cy="412.9" rx="2.7" ry="2" fill="#000"/>
<ellipse cx="1250.8" cy="422.1" rx="2.7" ry="2" fill="#000"/>
<ellipse cx="1264.8" cy="431.3" rx="2.7" ry="2" fill="#000"/>
<ellipse cx="1278.8" cy="440.5" rx="2.7" ry="2" fill="#000"/>
<ellipse cx="1292.8" cy="449.7" rx="2.7" ry="2" fill="#000"/>
<ellipse cx="1306.8" cy="458.9" rx="2.7" ry="2" fill="#000"/>
<ellipse cx="1320.8" cy="468.1" rx="2.7" ry="2" fill="#000"/>
<ellipse cx="1334.8" cy="477.3" rx="2.7" ry="2" fill="#000"/>
<ellipse cx="1348.8" cy="486.5" rx="2.7" ry="2" fill="#000"/>
<ellipse cx="1362.8" cy="495.7" rx="2.7" ry="2" fill="#000"/>
<ellipse cx="1376.8" cy="504.9" rx="2.7" ry="2" fill="#000"/>
<ellipse cx="1390.8" cy="514.1" rx="2.7" ry="2" fill="#000"/>
<rect x="930" y="288" width="2" height="1.2" fill="#000"/>
<rect x="413" y="361.5" width="2" height="1.2" fill="#000"/>
<rect x="285" y="571.5" width="1.2" height="1.2" fill="#000"/>
<rect x="1483" y="942" width="6" height="2" fill="#000"/>
<rect x="1323" y="972" width="2" height="2" fill="#000"/>
<rect x="87" y="1516" width="4" height="2" fill="#000"/>
<line x1="1142" y1="290" x2="1207.5" y2="339.7" stroke="#000" stroke-width="2.8"/>
<polygon points="1221,350 1202.2,343.3 1208.3,340.3 1209.5,333.7" fill="#000"/>
<line x1="1073" y1="384" x2="1113.8" y2="438.4" stroke="#000" stroke-width="2.8"/>
<polygon points="1124,452 1107.8,440.4 1114.4,439.2 1117.4,433.2" fill="#000"/>
<line x1="1041" y1="616" x2="1062.4" y2="565.6" stroke="#000" stroke-width="2.8"/>
<polygon points="1069,550 1067.1,569.8 1062.8,564.7 1056.1,565.1" fill="#000"/>
<line x1="1500" y1="736" x2="1442.6" y2="600.7" stroke="#000" stroke-width="2.8"/>
<polygon points="1436,585 1448.9,600.2 1442.2,599.7 1437.9,604.8" fill="#000"/>
<line x1="450" y1="872" x2="451.9" y2="923.0" stroke="#000" stroke-width="2.8"/>
<polygon points="452.5,940 445.8,921.2 451.9,924.0 457.8,920.8" fill="#000"/>
<line x1="1047.5" y1="914" x2="929.5" y2="885.5" stroke="#000" stroke-width="2.8"/>
<polygon points="913,881.5 932.9,880.1 928.6,885.3 930.1,891.8" fill="#000"/>
<line x1="1277" y1="1052.5" x2="1279.7" y2="1215.0" stroke="#000" stroke-width="2.8"/>
<polygon points="1280,1232 1273.7,1213.1 1279.7,1216.0 1285.7,1212.9" fill="#000"/>
<line x1="864.7" y1="1072.4" x2="823.3" y2="1113.0" stroke="#000" stroke-width="2.8"/>
<polygon points="811.2,1124.9 820.6,1107.3 822.6,1113.7 829.0,1115.9" fill="#000"/>
<line x1="902" y1="1090.6" x2="808.3" y2="1179.8" stroke="#000" stroke-width="2.8"/>
<polygon points="796,1191.5 805.6,1174.1 807.6,1180.5 813.9,1182.7" fill="#000"/>
<line x1="645" y1="1160" x2="732.2" y2="1194.7" stroke="#000" stroke-width="2.8"/>
<polygon points="748,1201 728.1,1199.5 733.1,1195.1 732.6,1188.4" fill="#000"/>
<line x1="481" y1="1206" x2="407.1" y2="1329.0" stroke="#000" stroke-width="2.8"/>
<polygon points="398.3,1343.6 402.9,1324.2 406.5,1329.9 413.2,1330.4" fill="#000"/>
<line x1="872" y1="1306" x2="819.1" y2="1287.9" stroke="#000" stroke-width="2.8"/>
<polygon points="803,1282.4 822.9,1282.9 818.1,1287.6 819.0,1294.2" fill="#000"/>
<line x1="880" y1="1370.7" x2="823.6" y2="1363.8" stroke="#000" stroke-width="2.8"/>
<polygon points="806.7,1361.8 826.3,1358.1 822.6,1363.7 824.8,1370.0" fill="#000"/>
<line x1="213.75" y1="1346" x2="269.1" y2="1306.8" stroke="#000" stroke-width="2.8"/>
<polygon points="283,1297 271.0,1312.9 269.9,1306.2 264.0,1303.1" fill="#000"/>
<line x1="223.75" y1="1442.5" x2="314.9" y2="1335.9" stroke="#000" stroke-width="2.8"/>
<polygon points="326,1323 318.2,1341.3 315.6,1335.2 309.1,1333.5" fill="#000"/>
<line x1="243.75" y1="1505" x2="341.2" y2="1381.4" stroke="#000" stroke-width="2.8"/>
<polygon points="351.7,1368 344.7,1386.6 341.8,1380.6 335.2,1379.2" fill="#000"/>
<line x1="326" y1="1547.5" x2="384.2" y2="1406.7" stroke="#000" stroke-width="2.8"/>
<polygon points="390.7,1391 389.0,1410.9 384.6,1405.8 377.9,1406.3" fill="#000"/>
<line x1="744" y1="1540" x2="756.9" y2="1433.9" stroke="#000" stroke-width="2.8"/>
<polygon points="759,1417 762.7,1436.6 757.1,1432.9 750.7,1435.1" fill="#000"/>
<line x1="1400" y1="1320" x2="1321.3" y2="1342.8" stroke="#000" stroke-width="2.8"/>
<polygon points="1305,1347.5 1321.6,1336.5 1320.4,1343.1 1324.9,1348.0" fill="#000"/>
<line x1="1095" y1="1232.5" x2="1095.0" y2="1278.0" stroke="#000" stroke-width="2.8"/>
<polygon points="1095,1295 1089.0,1276.0 1095.0,1279.0 1101.0,1276.0" fill="#000"/>
<line x1="1020" y1="1593" x2="1035.6" y2="1516.7" stroke="#000" stroke-width="2.8"/>
<polygon points="1039,1500 1041.1,1519.8 1035.8,1515.7 1029.3,1517.4" fill="#000"/>
<line x1="939" y1="1630" x2="955.0" y2="1564.5" stroke="#000" stroke-width="2.8"/>
<polygon points="959,1548 960.3,1567.9 955.2,1563.5 948.7,1565.0" fill="#000"/>
<line x1="612" y1="1882" x2="711.8" y2="1758.7" stroke="#000" stroke-width="2.8"/>
<polygon points="722.5,1745.5 715.2,1764.0 712.4,1757.9 705.9,1756.5" fill="#000"/>
<line x1="1307.5" y1="1890.5" x2="1278.4" y2="1747.2" stroke="#000" stroke-width="2.8"/>
<polygon points="1275,1730.5 1284.7,1747.9 1278.2,1746.2 1272.9,1750.3" fill="#000"/>
<circle cx="1118.5" cy="281" r="23.4" fill="#fff" stroke="#000" stroke-width="3.6"/>
<text x="0" y="0" transform="translate(1118.5 293) scale(0.62 1)" font-size="34" font-weight="bold" text-anchor="middle" stroke="#000" stroke-width="1.4">4</text>
<circle cx="1058.5" cy="362.5" r="23.4" fill="#fff" stroke="#000" stroke-width="3.6"/>
<text x="0" y="0" transform="translate(1058.5 374.5) scale(0.62 1)" font-size="34" font-weight="bold" text-anchor="middle" stroke="#000" stroke-width="1.4">2</text>
<circle cx="1040" cy="641" r="23.4" fill="#fff" stroke="#000" stroke-width="3.6"/>
<text x="0" y="0" transform="translate(1040 653) scale(0.62 1)" font-size="34" font-weight="bold" text-anchor="middle" stroke="#000" stroke-width="1.4">5</text>
<circle cx="1504" cy="760.5" r="23.4" fill="#fff" stroke="#000" stroke-width="3.6"/>
<text x="0" y="0" transform="translate(1504 772.5) scale(0.62 1)" font-size="34" font-weight="bold" text-anchor="middle" stroke="#000" stroke-width="1.4">3</text>
<circle cx="451" cy="798" r="23.4" fill="#fff" stroke="#000" stroke-width="3.6"/>
<text x="0" y="0" transform="translate(451 810) scale(0.62 1)" font-size="34" font-weight="bold" text-anchor="middle" stroke="#000" stroke-width="1.4">24</text>
<circle cx="448.5" cy="849" r="23.4" fill="#fff" stroke="#000" stroke-width="3.6"/>
<text x="0" y="0" transform="translate(448.5 861) scale(0.62 1)" font-size="34" font-weight="bold" text-anchor="middle" stroke="#000" stroke-width="1.4">23</text>
<circle cx="1070" cy="919" r="23.4" fill="#fff" stroke="#000" stroke-width="3.6"/>
<text x="0" y="0" transform="translate(1070 931) scale(0.62 1)" font-size="34" font-weight="bold" text-anchor="middle" stroke="#000" stroke-width="1.4">15</text>
<circle cx="1275" cy="1027.5" r="23.4" fill="#fff" stroke="#000" stroke-width="3.6"/>
<text x="0" y="0" transform="translate(1275 1039.5) scale(0.62 1)" font-size="34" font-weight="bold" text-anchor="middle" stroke="#000" stroke-width="1.4">8</text>
<circle cx="873" cy="1048" r="23.4" fill="#fff" stroke="#000" stroke-width="3.6"/>
<text x="0" y="0" transform="translate(873 1060) scale(0.62 1)" font-size="34" font-weight="bold" text-anchor="middle" stroke="#000" stroke-width="1.4">12</text>
<circle cx="925" cy="1079" r="23.4" fill="#fff" stroke="#000" stroke-width="3.6"/>
<text x="0" y="0" transform="translate(925 1091) scale(0.62 1)" font-size="34" font-weight="bold" text-anchor="middle" stroke="#000" stroke-width="1.4">13</text>
<circle cx="625" cy="1149" r="23.4" fill="#fff" stroke="#000" stroke-width="3.6"/>
<text x="0" y="0" transform="translate(625 1161) scale(0.62 1)" font-size="34" font-weight="bold" text-anchor="middle" stroke="#000" stroke-width="1.4">11</text>
<circle cx="1109" cy="1161" r="23.4" fill="#fff" stroke="#000" stroke-width="3.6"/>
<text x="0" y="0" transform="translate(1109 1173) scale(0.62 1)" font-size="34" font-weight="bold" text-anchor="middle" stroke="#000" stroke-width="1.4">8</text>
<circle cx="1095" cy="1207.5" r="23.4" fill="#fff" stroke="#000" stroke-width="3.6"/>
<text x="0" y="0" transform="translate(1095 1219.5) scale(0.62 1)" font-size="34" font-weight="bold" text-anchor="middle" stroke="#000" stroke-width="1.4">7</text>
<circle cx="500" cy="1189" r="23.4" fill="#fff" stroke="#000" stroke-width="3.6"/>
<text x="0" y="0" transform="translate(500 1201) scale(0.62 1)" font-size="34" font-weight="bold" text-anchor="middle" stroke="#000" stroke-width="1.4">22</text>
<circle cx="898" cy="1310" r="23.4" fill="#fff" stroke="#000" stroke-width="3.6"/>
<text x="0" y="0" transform="translate(898 1322) scale(0.62 1)" font-size="34" font-weight="bold" text-anchor="middle" stroke="#000" stroke-width="1.4">17</text>
<circle cx="1423.5" cy="1314" r="23.4" fill="#fff" stroke="#000" stroke-width="3.6"/>
<text x="0" y="0" transform="translate(1423.5 1326) scale(0.62 1)" font-size="34" font-weight="bold" text-anchor="middle" stroke="#000" stroke-width="1.4">9</text>
<circle cx="189" cy="1347.5" r="23.4" fill="#fff" stroke="#000" stroke-width="3.6"/>
<text x="0" y="0" transform="translate(189 1359.5) scale(0.62 1)" font-size="34" font-weight="bold" text-anchor="middle" stroke="#000" stroke-width="1.4">18</text>
<circle cx="900" cy="1365" r="23.4" fill="#fff" stroke="#000" stroke-width="3.6"/>
<text x="0" y="0" transform="translate(900 1377) scale(0.62 1)" font-size="34" font-weight="bold" text-anchor="middle" stroke="#000" stroke-width="1.4">14</text>
<circle cx="198" cy="1451.5" r="23.4" fill="#fff" stroke="#000" stroke-width="3.6"/>
<text x="0" y="0" transform="translate(198 1463.5) scale(0.62 1)" font-size="34" font-weight="bold" text-anchor="middle" stroke="#000" stroke-width="1.4">19</text>
<circle cx="231.5" cy="1528.5" r="23.4" fill="#fff" stroke="#000" stroke-width="3.6"/>
<text x="0" y="0" transform="translate(231.5 1540.5) scale(0.62 1)" font-size="34" font-weight="bold" text-anchor="middle" stroke="#000" stroke-width="1.4">20</text>
<circle cx="322.5" cy="1572.5" r="23.4" fill="#fff" stroke="#000" stroke-width="3.6"/>
<text x="0" y="0" transform="translate(322.5 1584.5) scale(0.62 1)" font-size="34" font-weight="bold" text-anchor="middle" stroke="#000" stroke-width="1.4">21</text>
<circle cx="744" cy="1565" r="23.4" fill="#fff" stroke="#000" stroke-width="3.6"/>
<text x="0" y="0" transform="translate(744 1577) scale(0.62 1)" font-size="34" font-weight="bold" text-anchor="middle" stroke="#000" stroke-width="1.4">25</text>
<circle cx="1020" cy="1618" r="23.4" fill="#fff" stroke="#000" stroke-width="3.6"/>
<text x="0" y="0" transform="translate(1020 1630) scale(0.62 1)" font-size="34" font-weight="bold" text-anchor="middle" stroke="#000" stroke-width="1.4">6</text>
<circle cx="937.5" cy="1654.5" r="23.4" fill="#fff" stroke="#000" stroke-width="3.6"/>
<text x="0" y="0" transform="translate(937.5 1666.5) scale(0.62 1)" font-size="34" font-weight="bold" text-anchor="middle" stroke="#000" stroke-width="1.4">16</text>
<circle cx="603" cy="1905" r="23.4" fill="#fff" stroke="#000" stroke-width="3.6"/>
<text x="0" y="0" transform="translate(603 1917) scale(0.62 1)" font-size="34" font-weight="bold" text-anchor="middle" stroke="#000" stroke-width="1.4">10</text>
<circle cx="1306.5" cy="1914.5" r="23.4" fill="#fff" stroke="#000" stroke-width="3.6"/>
<text x="0" y="0" transform="translate(1306.5 1926.5) scale(0.62 1)" font-size="34" font-weight="bold" text-anchor="middle" stroke="#000" stroke-width="1.4">1</text>
<circle cx="1310" cy="1963" r="23.4" fill="#fff" stroke="#000" stroke-width="3.6"/>
<text x="0" y="0" transform="translate(1310 1975) scale(0.62 1)" font-size="34" font-weight="bold" text-anchor="middle" stroke="#000" stroke-width="1.4">16</text>
</svg>
</body></html>
